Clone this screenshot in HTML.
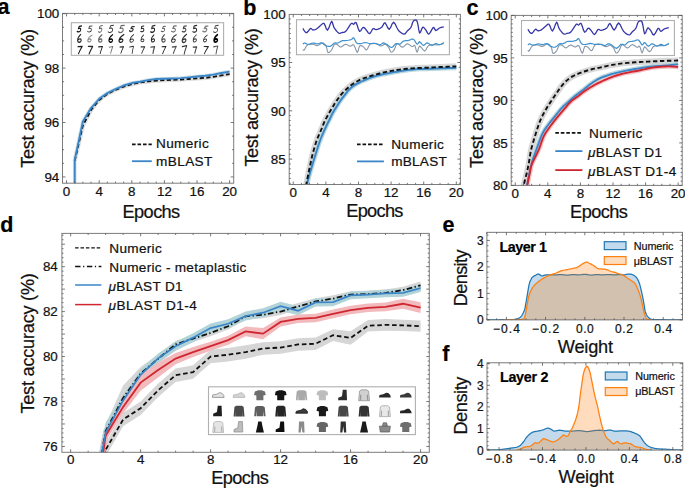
<!DOCTYPE html><html><head><meta charset="utf-8"><style>html,body{margin:0;padding:0;background:#fff;overflow:hidden}svg{display:block}text{font-family:"Liberation Sans",sans-serif}</style></head><body>
<svg width="685" height="488" viewBox="0 0 685 488">
<rect width="685" height="488" fill="#fff"/>
<defs>
<clipPath id="cA"><rect x="62.5" y="13.4" width="171.2" height="169.8"/></clipPath>
<clipPath id="cB"><rect x="289.2" y="14.4" width="171.2" height="170.1"/></clipPath>
<clipPath id="cC"><rect x="511.2" y="15.4" width="171" height="170"/></clipPath>
<clipPath id="cD"><rect x="61.9" y="233.4" width="367.4" height="218.9"/></clipPath>
<clipPath id="cE"><rect x="486.9" y="232.3" width="195.6" height="87.6"/></clipPath>
<clipPath id="cF"><rect x="487" y="362.8" width="195.8" height="87.3"/></clipPath>
</defs>
<text x="-2.4" y="13.6" font-size="21.5" fill="#000" stroke="#000" stroke-width="0.22" font-weight="bold">a</text>
<text x="243.2" y="14.6" font-size="21.5" fill="#000" stroke="#000" stroke-width="0.22" font-weight="bold">b</text>
<text x="466.4" y="14.9" font-size="21.5" fill="#000" stroke="#000" stroke-width="0.22" font-weight="bold">c</text>
<text x="0.2" y="231.6" font-size="21.5" fill="#000" stroke="#000" stroke-width="0.22" font-weight="bold">d</text>
<text x="442.6" y="232" font-size="21.5" fill="#000" stroke="#000" stroke-width="0.22" font-weight="bold">e</text>
<text x="442.2" y="360.8" font-size="21.5" fill="#000" stroke="#000" stroke-width="0.22" font-weight="bold">f</text>
<g clip-path="url(#cA)">
<path d="M74.73 160.89L82.88 125.51L91.03 110L99.19 99.93L107.34 93.95L115.49 89.86L123.64 86.6L131.8 84.15L139.95 82.52L148.1 81.43L156.25 80.61L164.4 80.07L172.56 79.8L180.71 79.52L188.86 78.98L197.01 78.44L205.17 77.89L213.32 76.8L221.47 75.44L229.62 74.08" fill="none" stroke="#dcdcdc" stroke-width="4.2" stroke-linejoin="round"/>
<path d="M74.73 187.83L74.73 160.07L82.88 121.43L91.03 108.1L99.19 98.84L107.34 93.13L115.49 89.05L123.64 85.51L131.8 83.06L139.95 81.7L148.1 80.07L156.25 78.98L164.4 78.71L172.56 78.44L180.71 78.16L188.86 77.35L197.01 76.53L205.17 75.71L213.32 74.63L221.47 72.99L229.62 71.63" fill="none" stroke="#d2e3ea" stroke-width="3.6" stroke-linejoin="round"/>
<path d="M74.73 160.89L82.88 125.51L91.03 110L99.19 99.93L107.34 93.95L115.49 89.86L123.64 86.6L131.8 84.15L139.95 82.52L148.1 81.43L156.25 80.61L164.4 80.07L172.56 79.8L180.71 79.52L188.86 78.98L197.01 78.44L205.17 77.89L213.32 76.8L221.47 75.44L229.62 74.08" fill="none" stroke="#111" stroke-width="1.8" stroke-dasharray="4.2 2.4"/>
<path d="M74.73 187.83L74.73 160.07L82.88 121.43L91.03 108.1L99.19 98.84L107.34 93.13L115.49 89.05L123.64 85.51L131.8 83.06L139.95 81.7L148.1 80.07L156.25 78.98L164.4 78.71L172.56 78.44L180.71 78.16L188.86 77.35L197.01 76.53L205.17 75.71L213.32 74.63L221.47 72.99L229.62 71.63" fill="none" stroke="#3a86c8" stroke-width="1.9" stroke-linejoin="round"/>
</g>
<g clip-path="url(#cB)">
<path d="M305.1 192.9L305.23 191.93L305.41 190.62L305.62 189.05L305.87 187.28L306.16 185.39L306.48 183.44L306.86 181.39L307.27 179.18L307.73 176.85L308.22 174.43L308.73 171.94L309.25 169.43L309.8 166.83L310.38 164.1L310.98 161.31L311.59 158.53L312.22 155.83L312.84 153.3L313.49 150.88L314.16 148.51L314.83 146.22L315.51 144.06L316.15 142.06L316.76 140.26L317.32 138.72L317.85 137.4L318.35 136.25L318.84 135.2L319.31 134.17L319.77 133.11L320.22 132.03L320.65 131L321.07 129.99L321.48 129L321.89 128.02L322.3 127.03L322.69 126.05L323.06 125.11L323.42 124.18L323.81 123.22L324.24 122.22L324.74 121.14L325.34 119.95L326 118.66L326.71 117.33L327.44 116L328.15 114.71L328.82 113.5L329.45 112.39L330.07 111.32L330.68 110.3L331.27 109.31L331.84 108.35L332.41 107.42L332.94 106.53L333.43 105.71L333.91 104.91L334.4 104.11L334.92 103.28L335.51 102.4L336.17 101.42L336.89 100.37L337.65 99.29L338.41 98.23L339.14 97.22L339.83 96.31L340.43 95.53L340.96 94.85L341.47 94.22L341.99 93.61L342.57 92.97L343.25 92.25L344.04 91.45L344.92 90.59L345.85 89.69L346.82 88.8L347.78 87.94L348.71 87.13L349.61 86.39L350.51 85.68L351.4 85L352.3 84.34L353.22 83.7L354.17 83.08L355.16 82.46L356.17 81.87L357.2 81.29L358.24 80.73L359.3 80.2L360.37 79.7L361.46 79.22L362.56 78.78L363.68 78.36L364.8 77.96L365.93 77.57L367.06 77.19L368.18 76.81L369.3 76.44L370.43 76.08L371.56 75.73L372.69 75.39L373.82 75.06L374.98 74.73L376.16 74.4L377.35 74.08L378.51 73.77L379.6 73.48L380.59 73.23L381.34 73.02L381.86 72.87L382.31 72.74L382.87 72.6L383.7 72.41L384.99 72.16L386.8 71.82L389.02 71.39L391.51 70.93L394.15 70.46L396.83 70.02L399.42 69.65L401.96 69.34L404.57 69.06L407.21 68.81L409.84 68.58L412.45 68.38L414.99 68.2L417.48 68.06L419.93 67.95L422.35 67.86L424.74 67.79L427.1 67.71L429.42 67.62L431.7 67.51L433.92 67.4L436.12 67.28L438.3 67.17L440.49 67.05L442.71 66.95L445.12 66.84L447.73 66.72L450.35 66.61L452.78 66.51L454.84 66.43L456.32 66.37" fill="none" stroke="#d8d8d8" stroke-width="6" stroke-linejoin="round"/>
<path d="M305.91 192.9L306.02 191.94L306.14 190.67L306.3 189.14L306.52 187.39L306.81 185.48L307.22 183.44L307.74 181.22L308.37 178.79L309.08 176.19L309.84 173.47L310.64 170.68L311.46 167.89L312.32 164.95L313.27 161.8L314.25 158.59L315.22 155.46L316.12 152.55L316.92 150.02L317.59 147.9L318.17 146.1L318.69 144.52L319.17 143.08L319.66 141.69L320.18 140.26L320.72 138.84L321.25 137.5L321.78 136.2L322.32 134.93L322.87 133.66L323.44 132.34L324.06 130.94L324.71 129.47L325.39 128L326.04 126.58L326.65 125.27L327.19 124.13L327.63 123.23L327.98 122.53L328.29 121.94L328.59 121.38L328.92 120.76L329.31 119.98L329.76 119.03L330.25 117.98L330.76 116.86L331.3 115.72L331.85 114.59L332.41 113.5L332.98 112.48L333.56 111.47L334.17 110.48L334.78 109.48L335.42 108.47L336.08 107.42L336.77 106.31L337.49 105.15L338.23 103.97L338.97 102.8L339.7 101.69L340.4 100.66L341.05 99.74L341.66 98.91L342.26 98.13L342.86 97.36L343.48 96.58L344.15 95.73L344.85 94.81L345.58 93.85L346.32 92.86L347.09 91.88L347.89 90.93L348.71 90.03L349.56 89.18L350.44 88.36L351.34 87.57L352.27 86.81L353.21 86.08L354.17 85.4L355.16 84.75L356.17 84.16L357.2 83.6L358.24 83.06L359.3 82.54L360.37 82.01L361.46 81.5L362.56 81L363.68 80.51L364.8 80.04L365.93 79.57L367.06 79.12L368.18 78.67L369.3 78.23L370.43 77.8L371.56 77.38L372.69 76.98L373.82 76.61L374.98 76.25L376.16 75.91L377.35 75.59L378.51 75.29L379.6 75.01L380.59 74.77L381.34 74.59L381.86 74.47L382.31 74.38L382.87 74.28L383.7 74.14L384.99 73.9L386.8 73.56L389.02 73.14L391.51 72.67L394.15 72.18L396.83 71.71L399.42 71.29L401.96 70.9L404.57 70.52L407.21 70.15L409.84 69.8L412.45 69.51L414.99 69.26L417.48 69.09L419.93 68.99L422.35 68.93L424.74 68.89L427.1 68.84L429.42 68.78L431.7 68.7L433.92 68.62L436.12 68.54L438.3 68.46L440.49 68.38L442.71 68.3L445.12 68.21L447.73 68.12L450.35 68.03L452.78 67.94L454.84 67.87L456.32 67.82" fill="none" stroke="#b9d8de" stroke-width="4.6" stroke-linejoin="round"/>
<path d="M305.91 192.9L306.02 191.94L306.14 190.67L306.3 189.14L306.52 187.39L306.81 185.48L307.22 183.44L307.74 181.22L308.37 178.79L309.08 176.19L309.84 173.47L310.64 170.68L311.46 167.89L312.32 164.95L313.27 161.8L314.25 158.59L315.22 155.46L316.12 152.55L316.92 150.02L317.59 147.9L318.17 146.1L318.69 144.52L319.17 143.08L319.66 141.69L320.18 140.26L320.72 138.84L321.25 137.5L321.78 136.2L322.32 134.93L322.87 133.66L323.44 132.34L324.06 130.94L324.71 129.47L325.39 128L326.04 126.58L326.65 125.27L327.19 124.13L327.63 123.23L327.98 122.53L328.29 121.94L328.59 121.38L328.92 120.76L329.31 119.98L329.76 119.03L330.25 117.98L330.76 116.86L331.3 115.72L331.85 114.59L332.41 113.5L332.98 112.48L333.56 111.47L334.17 110.48L334.78 109.48L335.42 108.47L336.08 107.42L336.77 106.31L337.49 105.15L338.23 103.97L338.97 102.8L339.7 101.69L340.4 100.66L341.05 99.74L341.66 98.91L342.26 98.13L342.86 97.36L343.48 96.58L344.15 95.73L344.85 94.81L345.58 93.85L346.32 92.86L347.09 91.88L347.89 90.93L348.71 90.03L349.56 89.18L350.44 88.36L351.34 87.57L352.27 86.81L353.21 86.08L354.17 85.4L355.16 84.75L356.17 84.16L357.2 83.6L358.24 83.06L359.3 82.54L360.37 82.01L361.46 81.5L362.56 81L363.68 80.51L364.8 80.04L365.93 79.57L367.06 79.12L368.18 78.67L369.3 78.23L370.43 77.8L371.56 77.38L372.69 76.98L373.82 76.61L374.98 76.25L376.16 75.91L377.35 75.59L378.51 75.29L379.6 75.01L380.59 74.77L381.34 74.59L381.86 74.47L382.31 74.38L382.87 74.28L383.7 74.14L384.99 73.9L386.8 73.56L389.02 73.14L391.51 72.67L394.15 72.18L396.83 71.71L399.42 71.29L401.96 70.9L404.57 70.52L407.21 70.15L409.84 69.8L412.45 69.51L414.99 69.26L417.48 69.09L419.93 68.99L422.35 68.93L424.74 68.89L427.1 68.84L429.42 68.78L431.7 68.7L433.92 68.62L436.12 68.54L438.3 68.46L440.49 68.38L442.71 68.3L445.12 68.21L447.73 68.12L450.35 68.03L452.78 67.94L454.84 67.87L456.32 67.82" fill="none" stroke="#3a86c8" stroke-width="1.9"/>
<path d="M305.1 192.9L305.23 191.93L305.41 190.62L305.62 189.05L305.87 187.28L306.16 185.39L306.48 183.44L306.86 181.39L307.27 179.18L307.73 176.85L308.22 174.43L308.73 171.94L309.25 169.43L309.8 166.83L310.38 164.1L310.98 161.31L311.59 158.53L312.22 155.83L312.84 153.3L313.49 150.88L314.16 148.51L314.83 146.22L315.51 144.06L316.15 142.06L316.76 140.26L317.32 138.72L317.85 137.4L318.35 136.25L318.84 135.2L319.31 134.17L319.77 133.11L320.22 132.03L320.65 131L321.07 129.99L321.48 129L321.89 128.02L322.3 127.03L322.69 126.05L323.06 125.11L323.42 124.18L323.81 123.22L324.24 122.22L324.74 121.14L325.34 119.95L326 118.66L326.71 117.33L327.44 116L328.15 114.71L328.82 113.5L329.45 112.39L330.07 111.32L330.68 110.3L331.27 109.31L331.84 108.35L332.41 107.42L332.94 106.53L333.43 105.71L333.91 104.91L334.4 104.11L334.92 103.28L335.51 102.4L336.17 101.42L336.89 100.37L337.65 99.29L338.41 98.23L339.14 97.22L339.83 96.31L340.43 95.53L340.96 94.85L341.47 94.22L341.99 93.61L342.57 92.97L343.25 92.25L344.04 91.45L344.92 90.59L345.85 89.69L346.82 88.8L347.78 87.94L348.71 87.13L349.61 86.39L350.51 85.68L351.4 85L352.3 84.34L353.22 83.7L354.17 83.08L355.16 82.46L356.17 81.87L357.2 81.29L358.24 80.73L359.3 80.2L360.37 79.7L361.46 79.22L362.56 78.78L363.68 78.36L364.8 77.96L365.93 77.57L367.06 77.19L368.18 76.81L369.3 76.44L370.43 76.08L371.56 75.73L372.69 75.39L373.82 75.06L374.98 74.73L376.16 74.4L377.35 74.08L378.51 73.77L379.6 73.48L380.59 73.23L381.34 73.02L381.86 72.87L382.31 72.74L382.87 72.6L383.7 72.41L384.99 72.16L386.8 71.82L389.02 71.39L391.51 70.93L394.15 70.46L396.83 70.02L399.42 69.65L401.96 69.34L404.57 69.06L407.21 68.81L409.84 68.58L412.45 68.38L414.99 68.2L417.48 68.06L419.93 67.95L422.35 67.86L424.74 67.79L427.1 67.71L429.42 67.62L431.7 67.51L433.92 67.4L436.12 67.28L438.3 67.17L440.49 67.05L442.71 66.95L445.12 66.84L447.73 66.72L450.35 66.61L452.78 66.51L454.84 66.43L456.32 66.37" fill="none" stroke="#111" stroke-width="1.9" stroke-dasharray="4.4 2.6"/>
</g>
<g clip-path="url(#cC)">
<path d="M522.6 190.5L522.71 189.92L522.86 189.17L523.04 188.25L523.25 187.18L523.51 185.98L523.82 184.63L524.2 183.1L524.65 181.35L525.14 179.47L525.65 177.51L526.14 175.55L526.59 173.67L527 171.88L527.39 170.13L527.76 168.37L528.13 166.59L528.5 164.74L528.87 162.79L529.22 160.75L529.55 158.64L529.87 156.46L530.22 154.22L530.64 151.91L531.15 149.53L531.78 147.02L532.5 144.38L533.29 141.67L534.11 138.96L534.92 136.32L535.71 133.81L536.46 131.41L537.21 129.06L537.95 126.79L538.71 124.59L539.48 122.47L540.27 120.46L541.09 118.56L541.92 116.78L542.76 115.09L543.63 113.46L544.51 111.85L545.4 110.26L546.33 108.67L547.29 107.1L548.27 105.57L549.24 104.08L550.19 102.63L551.1 101.25L551.94 99.96L552.73 98.77L553.5 97.63L554.28 96.49L555.1 95.31L555.99 94.03L556.96 92.61L557.99 91.08L559.05 89.51L560.15 87.95L561.25 86.46L562.34 85.1L563.41 83.87L564.48 82.71L565.56 81.62L566.66 80.6L567.78 79.64L568.93 78.73L570.11 77.88L571.29 77.12L572.51 76.42L573.76 75.76L575.06 75.11L576.42 74.48L577.89 73.84L579.44 73.22L581.04 72.62L582.66 72.04L584.25 71.5L585.79 70.99L587.29 70.51L588.81 70.06L590.3 69.65L591.74 69.26L593.09 68.92L594.34 68.61L595.39 68.38L596.25 68.22L597.03 68.09L597.84 67.97L598.78 67.82L599.96 67.59L601.39 67.28L603 66.91L604.74 66.5L606.58 66.08L608.47 65.67L610.38 65.3L612.31 64.94L614.29 64.59L616.33 64.25L618.43 63.92L620.6 63.62L622.84 63.34L625.18 63.09L627.62 62.87L630.14 62.67L632.68 62.49L635.23 62.31L637.74 62.15L640.22 62L642.71 61.86L645.19 61.73L647.67 61.61L650.16 61.5L652.64 61.38L655.17 61.27L657.77 61.16L660.36 61.06L662.9 60.96L665.31 60.87L667.54 60.79L669.68 60.72L671.78 60.67L673.77 60.63L675.54 60.59L677.03 60.56L678.13 60.54" fill="none" stroke="#d8d8d8" stroke-width="6" stroke-linejoin="round"/>
<path d="M525.86 190.5L525.95 190.04L526.05 189.54L526.19 188.88L526.38 187.93L526.67 186.56L527.08 184.63L527.63 181.94L528.3 178.54L529.06 174.72L529.88 170.77L530.73 166.98L531.56 163.64L532.39 160.76L533.25 158.12L534.14 155.63L535.04 153.24L535.94 150.86L536.85 148.43L537.75 145.89L538.66 143.31L539.57 140.74L540.49 138.26L541.43 135.92L542.39 133.81L543.36 131.95L544.34 130.32L545.33 128.83L546.35 127.42L547.4 126.02L548.49 124.54L549.64 122.99L550.84 121.43L552.08 119.88L553.32 118.34L554.55 116.83L555.74 115.36L556.91 113.92L558.07 112.48L559.22 111.07L560.34 109.72L561.44 108.45L562.5 107.29L563.48 106.28L564.38 105.42L565.26 104.63L566.15 103.87L567.12 103.04L568.2 102.1L569.43 101.01L570.78 99.81L572.2 98.56L573.64 97.3L575.06 96.08L576.42 94.96L577.73 93.94L579 92.99L580.26 92.08L581.5 91.19L582.75 90.29L584 89.35L585.25 88.36L586.49 87.34L587.74 86.32L588.98 85.3L590.23 84.32L591.49 83.4L592.71 82.54L593.9 81.73L595.08 80.96L596.32 80.2L597.66 79.46L599.14 78.73L600.79 77.98L602.58 77.23L604.46 76.5L606.41 75.79L608.39 75.11L610.38 74.48L612.36 73.89L614.35 73.36L616.38 72.85L618.46 72.37L620.61 71.9L622.84 71.42L625.18 70.93L627.62 70.44L630.14 69.96L632.68 69.49L635.23 69.04L637.74 68.61L640.22 68.19L642.71 67.79L645.19 67.39L647.67 67.03L650.16 66.69L652.64 66.4L655.17 66.16L657.77 65.98L660.36 65.83L662.9 65.69L665.31 65.55L667.54 65.38L669.68 65.18L671.78 64.95L673.77 64.72L675.54 64.5L677.03 64.32L678.13 64.19" fill="none" stroke="#b9d8de" stroke-width="4.6" stroke-linejoin="round"/>
<path d="M526.26 190.5L526.38 189.92L526.52 189.17L526.69 188.25L526.9 187.18L527.14 185.98L527.4 184.63L527.72 183.08L528.09 181.27L528.5 179.32L528.91 177.34L529.31 175.42L529.68 173.67L529.99 172.11L530.25 170.66L530.49 169.27L530.77 167.91L531.11 166.53L531.56 165.09L532.15 163.56L532.85 161.98L533.62 160.38L534.41 158.79L535.18 157.26L535.87 155.82L536.49 154.53L537.05 153.37L537.59 152.27L538.13 151.13L538.69 149.88L539.29 148.43L539.93 146.7L540.59 144.75L541.27 142.69L541.97 140.62L542.69 138.64L543.45 136.87L544.2 135.34L544.94 133.99L545.72 132.74L546.54 131.49L547.46 130.18L548.49 128.7L549.69 127.03L551.03 125.22L552.46 123.34L553.92 121.45L555.36 119.62L556.72 117.91L558.01 116.33L559.27 114.82L560.52 113.38L561.74 111.98L562.94 110.6L564.13 109.24L565.28 107.88L566.4 106.54L567.5 105.22L568.6 103.95L569.73 102.74L570.89 101.59L572.09 100.54L573.33 99.57L574.59 98.66L575.86 97.78L577.13 96.9L578.38 95.98L579.62 95.02L580.85 94.05L582.07 93.07L583.3 92.11L584.54 91.18L585.79 90.29L587.07 89.43L588.39 88.59L589.72 87.78L591.03 87.01L592.28 86.28L593.44 85.61L594.44 85.03L595.28 84.54L596.07 84.1L596.91 83.65L597.9 83.15L599.14 82.55L600.68 81.83L602.43 81.01L604.34 80.14L606.34 79.26L608.37 78.41L610.38 77.62L612.36 76.89L614.35 76.18L616.38 75.49L618.46 74.84L620.61 74.22L622.84 73.62L625.18 73.08L627.62 72.59L630.14 72.13L632.68 71.68L635.23 71.22L637.74 70.74L640.22 70.2L642.71 69.63L645.19 69.06L647.67 68.5L650.16 68L652.64 67.59L655.17 67.26L657.77 66.98L660.36 66.76L662.9 66.59L665.31 66.47L667.54 66.4L669.68 66.4L671.78 66.49L673.77 66.62L675.54 66.77L677.03 66.91L678.13 66.99" fill="none" stroke="#f3c3c5" stroke-width="4.6" stroke-linejoin="round"/>
<path d="M525.86 190.5L525.95 190.04L526.05 189.54L526.19 188.88L526.38 187.93L526.67 186.56L527.08 184.63L527.63 181.94L528.3 178.54L529.06 174.72L529.88 170.77L530.73 166.98L531.56 163.64L532.39 160.76L533.25 158.12L534.14 155.63L535.04 153.24L535.94 150.86L536.85 148.43L537.75 145.89L538.66 143.31L539.57 140.74L540.49 138.26L541.43 135.92L542.39 133.81L543.36 131.95L544.34 130.32L545.33 128.83L546.35 127.42L547.4 126.02L548.49 124.54L549.64 122.99L550.84 121.43L552.08 119.88L553.32 118.34L554.55 116.83L555.74 115.36L556.91 113.92L558.07 112.48L559.22 111.07L560.34 109.72L561.44 108.45L562.5 107.29L563.48 106.28L564.38 105.42L565.26 104.63L566.15 103.87L567.12 103.04L568.2 102.1L569.43 101.01L570.78 99.81L572.2 98.56L573.64 97.3L575.06 96.08L576.42 94.96L577.73 93.94L579 92.99L580.26 92.08L581.5 91.19L582.75 90.29L584 89.35L585.25 88.36L586.49 87.34L587.74 86.32L588.98 85.3L590.23 84.32L591.49 83.4L592.71 82.54L593.9 81.73L595.08 80.96L596.32 80.2L597.66 79.46L599.14 78.73L600.79 77.98L602.58 77.23L604.46 76.5L606.41 75.79L608.39 75.11L610.38 74.48L612.36 73.89L614.35 73.36L616.38 72.85L618.46 72.37L620.61 71.9L622.84 71.42L625.18 70.93L627.62 70.44L630.14 69.96L632.68 69.49L635.23 69.04L637.74 68.61L640.22 68.19L642.71 67.79L645.19 67.39L647.67 67.03L650.16 66.69L652.64 66.4L655.17 66.16L657.77 65.98L660.36 65.83L662.9 65.69L665.31 65.55L667.54 65.38L669.68 65.18L671.78 64.95L673.77 64.72L675.54 64.5L677.03 64.32L678.13 64.19" fill="none" stroke="#3a86c8" stroke-width="1.9"/>
<path d="M526.26 190.5L526.38 189.92L526.52 189.17L526.69 188.25L526.9 187.18L527.14 185.98L527.4 184.63L527.72 183.08L528.09 181.27L528.5 179.32L528.91 177.34L529.31 175.42L529.68 173.67L529.99 172.11L530.25 170.66L530.49 169.27L530.77 167.91L531.11 166.53L531.56 165.09L532.15 163.56L532.85 161.98L533.62 160.38L534.41 158.79L535.18 157.26L535.87 155.82L536.49 154.53L537.05 153.37L537.59 152.27L538.13 151.13L538.69 149.88L539.29 148.43L539.93 146.7L540.59 144.75L541.27 142.69L541.97 140.62L542.69 138.64L543.45 136.87L544.2 135.34L544.94 133.99L545.72 132.74L546.54 131.49L547.46 130.18L548.49 128.7L549.69 127.03L551.03 125.22L552.46 123.34L553.92 121.45L555.36 119.62L556.72 117.91L558.01 116.33L559.27 114.82L560.52 113.38L561.74 111.98L562.94 110.6L564.13 109.24L565.28 107.88L566.4 106.54L567.5 105.22L568.6 103.95L569.73 102.74L570.89 101.59L572.09 100.54L573.33 99.57L574.59 98.66L575.86 97.78L577.13 96.9L578.38 95.98L579.62 95.02L580.85 94.05L582.07 93.07L583.3 92.11L584.54 91.18L585.79 90.29L587.07 89.43L588.39 88.59L589.72 87.78L591.03 87.01L592.28 86.28L593.44 85.61L594.44 85.03L595.28 84.54L596.07 84.1L596.91 83.65L597.9 83.15L599.14 82.55L600.68 81.83L602.43 81.01L604.34 80.14L606.34 79.26L608.37 78.41L610.38 77.62L612.36 76.89L614.35 76.18L616.38 75.49L618.46 74.84L620.61 74.22L622.84 73.62L625.18 73.08L627.62 72.59L630.14 72.13L632.68 71.68L635.23 71.22L637.74 70.74L640.22 70.2L642.71 69.63L645.19 69.06L647.67 68.5L650.16 68L652.64 67.59L655.17 67.26L657.77 66.98L660.36 66.76L662.9 66.59L665.31 66.47L667.54 66.4L669.68 66.4L671.78 66.49L673.77 66.62L675.54 66.77L677.03 66.91L678.13 66.99" fill="none" stroke="#d02630" stroke-width="1.9"/>
<path d="M522.6 190.5L522.71 189.92L522.86 189.17L523.04 188.25L523.25 187.18L523.51 185.98L523.82 184.63L524.2 183.1L524.65 181.35L525.14 179.47L525.65 177.51L526.14 175.55L526.59 173.67L527 171.88L527.39 170.13L527.76 168.37L528.13 166.59L528.5 164.74L528.87 162.79L529.22 160.75L529.55 158.64L529.87 156.46L530.22 154.22L530.64 151.91L531.15 149.53L531.78 147.02L532.5 144.38L533.29 141.67L534.11 138.96L534.92 136.32L535.71 133.81L536.46 131.41L537.21 129.06L537.95 126.79L538.71 124.59L539.48 122.47L540.27 120.46L541.09 118.56L541.92 116.78L542.76 115.09L543.63 113.46L544.51 111.85L545.4 110.26L546.33 108.67L547.29 107.1L548.27 105.57L549.24 104.08L550.19 102.63L551.1 101.25L551.94 99.96L552.73 98.77L553.5 97.63L554.28 96.49L555.1 95.31L555.99 94.03L556.96 92.61L557.99 91.08L559.05 89.51L560.15 87.95L561.25 86.46L562.34 85.1L563.41 83.87L564.48 82.71L565.56 81.62L566.66 80.6L567.78 79.64L568.93 78.73L570.11 77.88L571.29 77.12L572.51 76.42L573.76 75.76L575.06 75.11L576.42 74.48L577.89 73.84L579.44 73.22L581.04 72.62L582.66 72.04L584.25 71.5L585.79 70.99L587.29 70.51L588.81 70.06L590.3 69.65L591.74 69.26L593.09 68.92L594.34 68.61L595.39 68.38L596.25 68.22L597.03 68.09L597.84 67.97L598.78 67.82L599.96 67.59L601.39 67.28L603 66.91L604.74 66.5L606.58 66.08L608.47 65.67L610.38 65.3L612.31 64.94L614.29 64.59L616.33 64.25L618.43 63.92L620.6 63.62L622.84 63.34L625.18 63.09L627.62 62.87L630.14 62.67L632.68 62.49L635.23 62.31L637.74 62.15L640.22 62L642.71 61.86L645.19 61.73L647.67 61.61L650.16 61.5L652.64 61.38L655.17 61.27L657.77 61.16L660.36 61.06L662.9 60.96L665.31 60.87L667.54 60.79L669.68 60.72L671.78 60.67L673.77 60.63L675.54 60.59L677.03 60.56L678.13 60.54" fill="none" stroke="#111" stroke-width="1.9" stroke-dasharray="4.4 2.6"/>
</g>
<g clip-path="url(#cD)">
<path d="M88.14 570.07L105.64 443.09L123.13 412.75L140.63 401.51L158.12 383.53L175.62 368.47L193.11 365.32L210.61 349.82L228.1 348.02L245.6 345.32L263.1 342.18L280.59 341.28L298.09 338.13L315.58 337.46L333.08 329.37L350.57 331.16L368.07 319.93L385.56 319.03L403.06 319.7L420.55 320.6L420.55 331.84L403.06 330.94L385.56 330.71L368.07 331.61L350.57 344.65L333.08 341.05L315.58 350.04L298.09 350.72L280.59 353.86L263.1 354.76L245.6 358.81L228.1 361.5L210.61 363.3L193.11 378.81L175.62 381.96L158.12 397.01L140.63 414.99L123.13 426.23L105.64 456.57L88.14 592.54Z" fill="#d6d6d6"/>
<path d="M88.14 581.3L105.64 449.83L123.13 419.49L140.63 408.25L158.12 390.27L175.62 375.21L193.11 372.07L210.61 356.56L228.1 354.76L245.6 352.06L263.1 348.47L280.59 347.57L298.09 344.42L315.58 343.75L333.08 335.21L350.57 337.91L368.07 325.77L385.56 324.87L403.06 325.32L420.55 326.22" fill="none" stroke="#d6d6d6" stroke-width="5" stroke-linejoin="round"/>
<path d="M88.14 513.88L105.64 424.43L123.13 385.55L140.63 366.9L158.12 354.31L175.62 340.83L193.11 335.21L210.61 329.59L228.1 322.85L245.6 312.96L263.1 311.39L280.59 308.24L298.09 303.07L315.58 298.13L333.08 295.2L350.57 291.16L368.07 290.71L385.56 289.59L403.06 286.66L420.55 281.5L420.55 289.14L403.06 293.41L385.56 296.33L368.07 297.45L350.57 297.9L333.08 301.95L315.58 304.87L298.09 309.81L280.59 314.98L263.1 318.13L245.6 319.7L228.1 329.59L210.61 336.33L193.11 341.95L175.62 348.02L158.12 363.3L140.63 380.38L123.13 410.27L105.64 437.92L88.14 536.35Z" fill="#d6d6d6"/>
<path d="M88.14 525.12L105.64 431.17L123.13 397.91L140.63 373.64L158.12 358.81L175.62 344.42L193.11 338.58L210.61 332.96L228.1 326.22L245.6 316.33L263.1 314.76L280.59 311.61L298.09 306.44L315.58 301.5L333.08 298.58L350.57 294.53L368.07 294.08L385.56 292.96L403.06 290.04L420.55 285.32" fill="none" stroke="#d6d6d6" stroke-width="5" stroke-linejoin="round"/>
<path d="M88.14 513.88L105.64 422.41L123.13 394.99L140.63 369.82L158.12 353.41L175.62 341.73L193.11 333.19L210.61 323.52L228.1 319.25L245.6 311.61L263.1 308.24L280.59 301.72L298.09 306.22L315.58 298.35L333.08 298.13L350.57 291.61L368.07 290.71L385.56 289.59L403.06 289.14L420.55 284.42L420.55 292.06L403.06 296.78L385.56 297.23L368.07 298.35L350.57 299.25L333.08 306.22L315.58 306.44L298.09 315.21L280.59 310.71L263.1 317.23L245.6 320.6L228.1 328.24L210.61 332.51L193.11 342.18L175.62 350.72L158.12 363.3L140.63 379.71L123.13 405.78L105.64 442.64L88.14 536.35Z" fill="#b2d3d7"/>
<path d="M88.14 525.12L105.64 432.52L123.13 400.38L140.63 374.76L158.12 358.36L175.62 346.22L193.11 337.68L210.61 328.02L228.1 323.75L245.6 316.11L263.1 312.73L280.59 306.22L298.09 310.71L315.58 302.4L333.08 302.17L350.57 295.43L368.07 294.53L385.56 293.41L403.06 292.96L420.55 288.24" fill="none" stroke="#b2d3d7" stroke-width="5" stroke-linejoin="round"/>
<path d="M88.14 547.59L105.64 430.05L123.13 400.61L140.63 374.54L158.12 362.63L175.62 352.96L193.11 347.12L210.61 341.73L228.1 335.66L245.6 326.44L263.1 328.02L280.59 317.45L298.09 314.53L315.58 313.63L333.08 309.59L350.57 305.77L368.07 303.52L385.56 302.62L403.06 298.8L420.55 302.17L420.55 312.96L403.06 308.69L385.56 311.16L368.07 312.06L350.57 314.31L333.08 318.13L315.58 322.17L298.09 323.07L280.59 326.44L263.1 339.25L245.6 336.33L228.1 344.65L210.61 350.72L193.11 357.01L175.62 364.2L158.12 377.46L140.63 390.72L123.13 413.19L105.64 441.29L88.14 570.07Z" fill="#f2babc"/>
<path d="M88.14 558.83L105.64 435.67L123.13 406.9L140.63 382.63L158.12 370.04L175.62 358.58L193.11 352.06L210.61 346.22L228.1 340.15L245.6 331.39L263.1 333.64L280.59 321.95L298.09 318.8L315.58 317.9L333.08 313.86L350.57 310.04L368.07 307.79L385.56 306.89L403.06 303.74L420.55 307.57" fill="none" stroke="#f2babc" stroke-width="5" stroke-linejoin="round"/>
<path d="M88.14 581.3L105.64 449.83L123.13 419.49L140.63 408.25L158.12 390.27L175.62 375.21L193.11 372.07L210.61 356.56L228.1 354.76L245.6 352.06L263.1 348.47L280.59 347.57L298.09 344.42L315.58 343.75L333.08 335.21L350.57 337.91L368.07 325.77L385.56 324.87L403.06 325.32L420.55 326.22" fill="none" stroke="#111" stroke-width="1.8" stroke-dasharray="4.6 2.8"/>
<path d="M88.14 525.12L105.64 431.17L123.13 397.91L140.63 373.64L158.12 358.81L175.62 344.42L193.11 338.58L210.61 332.96L228.1 326.22L245.6 316.33L263.1 314.76L280.59 311.61L298.09 306.44L315.58 301.5L333.08 298.58L350.57 294.53L368.07 294.08L385.56 292.96L403.06 290.04L420.55 285.32" fill="none" stroke="#111" stroke-width="1.8" stroke-dasharray="5.6 2.4 1.4 2.4"/>
<path d="M88.14 558.83L105.64 435.67L123.13 406.9L140.63 382.63L158.12 370.04L175.62 358.58L193.11 352.06L210.61 346.22L228.1 340.15L245.6 331.39L263.1 333.64L280.59 321.95L298.09 318.8L315.58 317.9L333.08 313.86L350.57 310.04L368.07 307.79L385.56 306.89L403.06 303.74L420.55 307.57" fill="none" stroke="#d02630" stroke-width="1.8"/>
<path d="M88.14 525.12L105.64 432.52L123.13 400.38L140.63 374.76L158.12 358.36L175.62 346.22L193.11 337.68L210.61 328.02L228.1 323.75L245.6 316.11L263.1 312.73L280.59 306.22L298.09 310.71L315.58 302.4L333.08 302.17L350.57 295.43L368.07 294.53L385.56 293.41L403.06 292.96L420.55 288.24" fill="none" stroke="#3a86c8" stroke-width="1.8"/>
</g>
<rect x="62.5" y="13.4" width="171.2" height="169.8" fill="none" stroke="#7c7c7c" stroke-width="1.0"/>
<path d="M66.58 183.2v-3M66.58 13.4v3M74.73 183.2v-1.6M74.73 13.4v1.6M82.88 183.2v-1.6M82.88 13.4v1.6M91.03 183.2v-1.6M91.03 13.4v1.6M99.19 183.2v-3M99.19 13.4v3M107.34 183.2v-1.6M107.34 13.4v1.6M115.49 183.2v-1.6M115.49 13.4v1.6M123.64 183.2v-1.6M123.64 13.4v1.6M131.8 183.2v-3M131.8 13.4v3M139.95 183.2v-1.6M139.95 13.4v1.6M148.1 183.2v-1.6M148.1 13.4v1.6M156.25 183.2v-1.6M156.25 13.4v1.6M164.4 183.2v-3M164.4 13.4v3M172.56 183.2v-1.6M172.56 13.4v1.6M180.71 183.2v-1.6M180.71 13.4v1.6M188.86 183.2v-1.6M188.86 13.4v1.6M197.01 183.2v-3M197.01 13.4v3M205.17 183.2v-1.6M205.17 13.4v1.6M213.32 183.2v-1.6M213.32 13.4v1.6M221.47 183.2v-1.6M221.47 13.4v1.6M229.62 183.2v-3M229.62 13.4v3M62.5 176.94h3M233.7 176.94h-3M62.5 163.34h1.6M233.7 163.34h-1.6M62.5 149.73h1.6M233.7 149.73h-1.6M62.5 136.12h1.6M233.7 136.12h-1.6M62.5 122.52h3M233.7 122.52h-3M62.5 108.91h1.6M233.7 108.91h-1.6M62.5 95.31h1.6M233.7 95.31h-1.6M62.5 81.7h1.6M233.7 81.7h-1.6M62.5 68.1h3M233.7 68.1h-3M62.5 54.49h1.6M233.7 54.49h-1.6M62.5 40.88h1.6M233.7 40.88h-1.6M62.5 27.28h1.6M233.7 27.28h-1.6M62.5 13.67h3M233.7 13.67h-3" stroke="#555" stroke-width="0.8" fill="none"/>
<rect x="289.2" y="14.4" width="171.2" height="170.1" fill="none" stroke="#7c7c7c" stroke-width="1.0"/>
<path d="M293.28 184.5v-3M293.28 14.4v3M301.43 184.5v-1.6M301.43 14.4v1.6M309.58 184.5v-1.6M309.58 14.4v1.6M317.73 184.5v-1.6M317.73 14.4v1.6M325.89 184.5v-3M325.89 14.4v3M334.04 184.5v-1.6M334.04 14.4v1.6M342.19 184.5v-1.6M342.19 14.4v1.6M350.34 184.5v-1.6M350.34 14.4v1.6M358.5 184.5v-3M358.5 14.4v3M366.65 184.5v-1.6M366.65 14.4v1.6M374.8 184.5v-1.6M374.8 14.4v1.6M382.95 184.5v-1.6M382.95 14.4v1.6M391.1 184.5v-3M391.1 14.4v3M399.26 184.5v-1.6M399.26 14.4v1.6M407.41 184.5v-1.6M407.41 14.4v1.6M415.56 184.5v-1.6M415.56 14.4v1.6M423.71 184.5v-3M423.71 14.4v3M431.87 184.5v-1.6M431.87 14.4v1.6M440.02 184.5v-1.6M440.02 14.4v1.6M448.17 184.5v-1.6M448.17 14.4v1.6M456.32 184.5v-3M456.32 14.4v3M289.2 183.24h1.6M460.4 183.24h-1.6M289.2 178.41h1.6M460.4 178.41h-1.6M289.2 173.59h1.6M460.4 173.59h-1.6M289.2 168.76h1.6M460.4 168.76h-1.6M289.2 163.93h1.6M460.4 163.93h-1.6M289.2 159.1h3M460.4 159.1h-3M289.2 154.27h1.6M460.4 154.27h-1.6M289.2 149.44h1.6M460.4 149.44h-1.6M289.2 144.61h1.6M460.4 144.61h-1.6M289.2 139.78h1.6M460.4 139.78h-1.6M289.2 134.95h1.6M460.4 134.95h-1.6M289.2 130.12h1.6M460.4 130.12h-1.6M289.2 125.29h1.6M460.4 125.29h-1.6M289.2 120.46h1.6M460.4 120.46h-1.6M289.2 115.63h1.6M460.4 115.63h-1.6M289.2 110.8h3M460.4 110.8h-3M289.2 105.97h1.6M460.4 105.97h-1.6M289.2 101.14h1.6M460.4 101.14h-1.6M289.2 96.31h1.6M460.4 96.31h-1.6M289.2 91.48h1.6M460.4 91.48h-1.6M289.2 86.65h1.6M460.4 86.65h-1.6M289.2 81.82h1.6M460.4 81.82h-1.6M289.2 76.99h1.6M460.4 76.99h-1.6M289.2 72.16h1.6M460.4 72.16h-1.6M289.2 67.33h1.6M460.4 67.33h-1.6M289.2 62.5h3M460.4 62.5h-3M289.2 57.67h1.6M460.4 57.67h-1.6M289.2 52.84h1.6M460.4 52.84h-1.6M289.2 48.01h1.6M460.4 48.01h-1.6M289.2 43.18h1.6M460.4 43.18h-1.6M289.2 38.36h1.6M460.4 38.36h-1.6M289.2 33.53h1.6M460.4 33.53h-1.6M289.2 28.7h1.6M460.4 28.7h-1.6M289.2 23.87h1.6M460.4 23.87h-1.6M289.2 19.04h1.6M460.4 19.04h-1.6" stroke="#555" stroke-width="0.8" fill="none"/>
<rect x="511.2" y="15.4" width="171" height="170" fill="none" stroke="#7c7c7c" stroke-width="1.0"/>
<path d="M515.27 185.4v-3M515.27 15.4v3M523.41 185.4v-1.6M523.41 15.4v1.6M531.56 185.4v-1.6M531.56 15.4v1.6M539.7 185.4v-1.6M539.7 15.4v1.6M547.84 185.4v-3M547.84 15.4v3M555.99 185.4v-1.6M555.99 15.4v1.6M564.13 185.4v-1.6M564.13 15.4v1.6M572.27 185.4v-1.6M572.27 15.4v1.6M580.41 185.4v-3M580.41 15.4v3M588.56 185.4v-1.6M588.56 15.4v1.6M596.7 185.4v-1.6M596.7 15.4v1.6M604.84 185.4v-1.6M604.84 15.4v1.6M612.99 185.4v-3M612.99 15.4v3M621.13 185.4v-1.6M621.13 15.4v1.6M629.27 185.4v-1.6M629.27 15.4v1.6M637.41 185.4v-1.6M637.41 15.4v1.6M645.56 185.4v-3M645.56 15.4v3M653.7 185.4v-1.6M653.7 15.4v1.6M661.84 185.4v-1.6M661.84 15.4v1.6M669.99 185.4v-1.6M669.99 15.4v1.6M678.13 185.4v-3M678.13 15.4v3M511.2 185.4h3M682.2 185.4h-3M511.2 181.15h1.6M682.2 181.15h-1.6M511.2 176.9h1.6M682.2 176.9h-1.6M511.2 172.65h1.6M682.2 172.65h-1.6M511.2 168.4h1.6M682.2 168.4h-1.6M511.2 164.15h1.6M682.2 164.15h-1.6M511.2 159.9h1.6M682.2 159.9h-1.6M511.2 155.65h1.6M682.2 155.65h-1.6M511.2 151.4h1.6M682.2 151.4h-1.6M511.2 147.15h1.6M682.2 147.15h-1.6M511.2 142.9h3M682.2 142.9h-3M511.2 138.65h1.6M682.2 138.65h-1.6M511.2 134.4h1.6M682.2 134.4h-1.6M511.2 130.15h1.6M682.2 130.15h-1.6M511.2 125.9h1.6M682.2 125.9h-1.6M511.2 121.65h1.6M682.2 121.65h-1.6M511.2 117.4h1.6M682.2 117.4h-1.6M511.2 113.15h1.6M682.2 113.15h-1.6M511.2 108.9h1.6M682.2 108.9h-1.6M511.2 104.65h1.6M682.2 104.65h-1.6M511.2 100.4h3M682.2 100.4h-3M511.2 96.15h1.6M682.2 96.15h-1.6M511.2 91.9h1.6M682.2 91.9h-1.6M511.2 87.65h1.6M682.2 87.65h-1.6M511.2 83.4h1.6M682.2 83.4h-1.6M511.2 79.15h1.6M682.2 79.15h-1.6M511.2 74.9h1.6M682.2 74.9h-1.6M511.2 70.65h1.6M682.2 70.65h-1.6M511.2 66.4h1.6M682.2 66.4h-1.6M511.2 62.15h1.6M682.2 62.15h-1.6M511.2 57.9h3M682.2 57.9h-3M511.2 53.65h1.6M682.2 53.65h-1.6M511.2 49.4h1.6M682.2 49.4h-1.6M511.2 45.15h1.6M682.2 45.15h-1.6M511.2 40.9h1.6M682.2 40.9h-1.6M511.2 36.65h1.6M682.2 36.65h-1.6M511.2 32.4h1.6M682.2 32.4h-1.6M511.2 28.15h1.6M682.2 28.15h-1.6M511.2 23.9h1.6M682.2 23.9h-1.6M511.2 19.65h1.6M682.2 19.65h-1.6M511.2 15.4h3M682.2 15.4h-3" stroke="#555" stroke-width="0.8" fill="none"/>
<rect x="61.9" y="233.4" width="367.4" height="218.9" fill="none" stroke="#7c7c7c" stroke-width="1.0"/>
<path d="M70.65 452.3v-3M70.65 233.4v3M88.14 452.3v-1.6M88.14 233.4v1.6M105.64 452.3v-1.6M105.64 233.4v1.6M123.13 452.3v-1.6M123.13 233.4v1.6M140.63 452.3v-3M140.63 233.4v3M158.12 452.3v-1.6M158.12 233.4v1.6M175.62 452.3v-1.6M175.62 233.4v1.6M193.11 452.3v-1.6M193.11 233.4v1.6M210.61 452.3v-3M210.61 233.4v3M228.1 452.3v-1.6M228.1 233.4v1.6M245.6 452.3v-1.6M245.6 233.4v1.6M263.1 452.3v-1.6M263.1 233.4v1.6M280.59 452.3v-3M280.59 233.4v3M298.09 452.3v-1.6M298.09 233.4v1.6M315.58 452.3v-1.6M315.58 233.4v1.6M333.08 452.3v-1.6M333.08 233.4v1.6M350.57 452.3v-3M350.57 233.4v3M368.07 452.3v-1.6M368.07 233.4v1.6M385.56 452.3v-1.6M385.56 233.4v1.6M403.06 452.3v-1.6M403.06 233.4v1.6M420.55 452.3v-3M420.55 233.4v3M61.9 446.46h3M429.3 446.46h-3M61.9 441.96h1.6M429.3 441.96h-1.6M61.9 437.47h1.6M429.3 437.47h-1.6M61.9 432.97h1.6M429.3 432.97h-1.6M61.9 428.48h1.6M429.3 428.48h-1.6M61.9 423.98h3M429.3 423.98h-3M61.9 419.49h1.6M429.3 419.49h-1.6M61.9 414.99h1.6M429.3 414.99h-1.6M61.9 410.5h1.6M429.3 410.5h-1.6M61.9 406h1.6M429.3 406h-1.6M61.9 401.51h3M429.3 401.51h-3M61.9 397.01h1.6M429.3 397.01h-1.6M61.9 392.52h1.6M429.3 392.52h-1.6M61.9 388.02h1.6M429.3 388.02h-1.6M61.9 383.53h1.6M429.3 383.53h-1.6M61.9 379.03h3M429.3 379.03h-3M61.9 374.54h1.6M429.3 374.54h-1.6M61.9 370.04h1.6M429.3 370.04h-1.6M61.9 365.55h1.6M429.3 365.55h-1.6M61.9 361.05h1.6M429.3 361.05h-1.6M61.9 356.56h3M429.3 356.56h-3M61.9 352.06h1.6M429.3 352.06h-1.6M61.9 347.57h1.6M429.3 347.57h-1.6M61.9 343.07h1.6M429.3 343.07h-1.6M61.9 338.58h1.6M429.3 338.58h-1.6M61.9 334.09h3M429.3 334.09h-3M61.9 329.59h1.6M429.3 329.59h-1.6M61.9 325.1h1.6M429.3 325.1h-1.6M61.9 320.6h1.6M429.3 320.6h-1.6M61.9 316.11h1.6M429.3 316.11h-1.6M61.9 311.61h3M429.3 311.61h-3M61.9 307.12h1.6M429.3 307.12h-1.6M61.9 302.62h1.6M429.3 302.62h-1.6M61.9 298.13h1.6M429.3 298.13h-1.6M61.9 293.63h1.6M429.3 293.63h-1.6M61.9 289.14h3M429.3 289.14h-3M61.9 284.64h1.6M429.3 284.64h-1.6M61.9 280.15h1.6M429.3 280.15h-1.6M61.9 275.65h1.6M429.3 275.65h-1.6M61.9 271.16h1.6M429.3 271.16h-1.6M61.9 266.66h3M429.3 266.66h-3M61.9 262.17h1.6M429.3 262.17h-1.6M61.9 257.67h1.6M429.3 257.67h-1.6M61.9 253.18h1.6M429.3 253.18h-1.6M61.9 248.68h1.6M429.3 248.68h-1.6M61.9 244.19h3M429.3 244.19h-3M61.9 239.69h1.6M429.3 239.69h-1.6M61.9 235.2h1.6M429.3 235.2h-1.6" stroke="#555" stroke-width="0.8" fill="none"/>
<text x="66.58" y="195.9" font-size="13.4" fill="#111" stroke="#111" stroke-width="0.22" text-anchor="middle">0</text>
<text x="99.19" y="195.9" font-size="13.4" fill="#111" stroke="#111" stroke-width="0.22" text-anchor="middle">4</text>
<text x="131.8" y="195.9" font-size="13.4" fill="#111" stroke="#111" stroke-width="0.22" text-anchor="middle">8</text>
<text x="164.4" y="195.9" font-size="13.4" fill="#111" stroke="#111" stroke-width="0.22" text-anchor="middle">12</text>
<text x="197.01" y="195.9" font-size="13.4" fill="#111" stroke="#111" stroke-width="0.22" text-anchor="middle">16</text>
<text x="229.62" y="195.9" font-size="13.4" fill="#111" stroke="#111" stroke-width="0.22" text-anchor="middle">20</text>
<text x="293.28" y="197.2" font-size="13.4" fill="#111" stroke="#111" stroke-width="0.22" text-anchor="middle">0</text>
<text x="325.89" y="197.2" font-size="13.4" fill="#111" stroke="#111" stroke-width="0.22" text-anchor="middle">4</text>
<text x="358.5" y="197.2" font-size="13.4" fill="#111" stroke="#111" stroke-width="0.22" text-anchor="middle">8</text>
<text x="391.1" y="197.2" font-size="13.4" fill="#111" stroke="#111" stroke-width="0.22" text-anchor="middle">12</text>
<text x="423.71" y="197.2" font-size="13.4" fill="#111" stroke="#111" stroke-width="0.22" text-anchor="middle">16</text>
<text x="456.32" y="197.2" font-size="13.4" fill="#111" stroke="#111" stroke-width="0.22" text-anchor="middle">20</text>
<text x="515.27" y="198.1" font-size="13.4" fill="#111" stroke="#111" stroke-width="0.22" text-anchor="middle">0</text>
<text x="547.84" y="198.1" font-size="13.4" fill="#111" stroke="#111" stroke-width="0.22" text-anchor="middle">4</text>
<text x="580.41" y="198.1" font-size="13.4" fill="#111" stroke="#111" stroke-width="0.22" text-anchor="middle">8</text>
<text x="612.99" y="198.1" font-size="13.4" fill="#111" stroke="#111" stroke-width="0.22" text-anchor="middle">12</text>
<text x="645.56" y="198.1" font-size="13.4" fill="#111" stroke="#111" stroke-width="0.22" text-anchor="middle">16</text>
<text x="678.13" y="198.1" font-size="13.4" fill="#111" stroke="#111" stroke-width="0.22" text-anchor="middle">20</text>
<text x="70.65" y="464.4" font-size="13.4" fill="#111" stroke="#111" stroke-width="0.22" text-anchor="middle">0</text>
<text x="140.63" y="464.4" font-size="13.4" fill="#111" stroke="#111" stroke-width="0.22" text-anchor="middle">4</text>
<text x="210.61" y="464.4" font-size="13.4" fill="#111" stroke="#111" stroke-width="0.22" text-anchor="middle">8</text>
<text x="280.59" y="464.4" font-size="13.4" fill="#111" stroke="#111" stroke-width="0.22" text-anchor="middle">12</text>
<text x="350.57" y="464.4" font-size="13.4" fill="#111" stroke="#111" stroke-width="0.22" text-anchor="middle">16</text>
<text x="420.55" y="464.4" font-size="13.4" fill="#111" stroke="#111" stroke-width="0.22" text-anchor="middle">20</text>
<text x="59.3" y="181.64" font-size="13.4" fill="#111" stroke="#111" stroke-width="0.22" text-anchor="end">94</text>
<text x="59.3" y="127.22" font-size="13.4" fill="#111" stroke="#111" stroke-width="0.22" text-anchor="end">96</text>
<text x="59.3" y="72.8" font-size="13.4" fill="#111" stroke="#111" stroke-width="0.22" text-anchor="end">98</text>
<text x="59.3" y="18.37" font-size="13.4" fill="#111" stroke="#111" stroke-width="0.22" text-anchor="end">100</text>
<text x="285.6" y="163.8" font-size="13.4" fill="#111" stroke="#111" stroke-width="0.22" text-anchor="end">85</text>
<text x="285.6" y="115.5" font-size="13.4" fill="#111" stroke="#111" stroke-width="0.22" text-anchor="end">90</text>
<text x="285.6" y="67.2" font-size="13.4" fill="#111" stroke="#111" stroke-width="0.22" text-anchor="end">95</text>
<text x="285.6" y="18.91" font-size="13.4" fill="#111" stroke="#111" stroke-width="0.22" text-anchor="end">100</text>
<text x="507.8" y="190.1" font-size="13.4" fill="#111" stroke="#111" stroke-width="0.22" text-anchor="end">80</text>
<text x="507.8" y="147.6" font-size="13.4" fill="#111" stroke="#111" stroke-width="0.22" text-anchor="end">85</text>
<text x="507.8" y="105.1" font-size="13.4" fill="#111" stroke="#111" stroke-width="0.22" text-anchor="end">90</text>
<text x="507.8" y="62.6" font-size="13.4" fill="#111" stroke="#111" stroke-width="0.22" text-anchor="end">95</text>
<text x="507.8" y="20.1" font-size="13.4" fill="#111" stroke="#111" stroke-width="0.22" text-anchor="end">100</text>
<text x="57.8" y="451.16" font-size="13.4" fill="#111" stroke="#111" stroke-width="0.22" text-anchor="end">76</text>
<text x="57.8" y="406.21" font-size="13.4" fill="#111" stroke="#111" stroke-width="0.22" text-anchor="end">78</text>
<text x="57.8" y="361.26" font-size="13.4" fill="#111" stroke="#111" stroke-width="0.22" text-anchor="end">80</text>
<text x="57.8" y="316.31" font-size="13.4" fill="#111" stroke="#111" stroke-width="0.22" text-anchor="end">82</text>
<text x="57.8" y="271.36" font-size="13.4" fill="#111" stroke="#111" stroke-width="0.22" text-anchor="end">84</text>
<text transform="translate(34.1,167.7) rotate(-90)" font-size="18.2" fill="#111" stroke="#111" stroke-width="0.22" textLength="138.7" lengthAdjust="spacing">Test accuracy (%)</text>
<text transform="translate(258.2,166.6) rotate(-90)" font-size="18.2" fill="#111" stroke="#111" stroke-width="0.22" textLength="138.4" lengthAdjust="spacing">Test accuracy (%)</text>
<text transform="translate(482.9,167.9) rotate(-90)" font-size="18.2" fill="#111" stroke="#111" stroke-width="0.22" textLength="140.1" lengthAdjust="spacing">Test accuracy (%)</text>
<text transform="translate(34.2,413.6) rotate(-90)" font-size="18.2" fill="#111" stroke="#111" stroke-width="0.22" textLength="140.5" lengthAdjust="spacing">Test accuracy (%)</text>
<text x="122.6" y="217.7" font-size="18.2" fill="#111" stroke="#111" stroke-width="0.22" textLength="57.6" lengthAdjust="spacing">Epochs</text>
<text x="346.2" y="217.4" font-size="18.2" fill="#111" stroke="#111" stroke-width="0.22" textLength="57.2" lengthAdjust="spacing">Epochs</text>
<text x="570.1" y="217.7" font-size="18.2" fill="#111" stroke="#111" stroke-width="0.22" textLength="57.8" lengthAdjust="spacing">Epochs</text>
<text x="211.2" y="484.3" font-size="18.2" fill="#111" stroke="#111" stroke-width="0.22" textLength="57.6" lengthAdjust="spacing">Epochs</text>
<path d="M132 144.3H151.8" stroke="#111" stroke-width="1.8" stroke-dasharray="3.6 1.9"/>
<path d="M132 161.2H151.8" stroke="#3a86c8" stroke-width="1.8"/>
<text x="156" y="148.2" font-size="13.6" fill="#111" stroke="#111" stroke-width="0.22" textLength="52.8" lengthAdjust="spacing">Numeric</text>
<text x="156" y="165.8" font-size="13.6" fill="#111" stroke="#111" stroke-width="0.22" textLength="56.4" lengthAdjust="spacing">mBLAST</text>
<path d="M357 144.3H383.9" stroke="#111" stroke-width="1.8" stroke-dasharray="3.6 1.9"/>
<path d="M357 161.4H383.9" stroke="#3a86c8" stroke-width="1.8"/>
<text x="391.2" y="149.4" font-size="13.6" fill="#111" stroke="#111" stroke-width="0.22" textLength="52.6" lengthAdjust="spacing">Numeric</text>
<text x="391.2" y="166.3" font-size="13.6" fill="#111" stroke="#111" stroke-width="0.22" textLength="55.6" lengthAdjust="spacing">mBLAST</text>
<path d="M555.3 132.9H582.4" stroke="#111" stroke-width="1.8" stroke-dasharray="3.6 1.9"/>
<path d="M555.3 151.1H582.4" stroke="#3a86c8" stroke-width="1.8"/>
<path d="M555.3 170.1H582.4" stroke="#d02630" stroke-width="1.8"/>
<text x="588.9" y="138.4" font-size="13.6" fill="#111" stroke="#111" stroke-width="0.22" textLength="53.4" lengthAdjust="spacing">Numeric</text>
<text x="588" y="156.6" font-size="13.6" fill="#111" stroke="#111" stroke-width="0.22" textLength="74" lengthAdjust="spacing"><tspan font-style="italic">μ</tspan>BLAST D1</text>
<text x="588" y="175.6" font-size="13.6" fill="#111" stroke="#111" stroke-width="0.22" textLength="88.2" lengthAdjust="spacing"><tspan font-style="italic">μ</tspan>BLAST D1-4</text>
<path d="M75.1 247.9H101.4" stroke="#111" stroke-width="1.3" stroke-dasharray="3.5 1.9"/>
<path d="M75.1 266.5H101.4" stroke="#111" stroke-width="1.3" stroke-dasharray="5.4 2.6 1.2 2.6"/>
<path d="M75.1 285H101.4" stroke="#3a86c8" stroke-width="1.5"/>
<path d="M75.1 304.6H101.4" stroke="#d02630" stroke-width="1.5"/>
<text x="109.3" y="253.3" font-size="13.6" fill="#111" stroke="#111" stroke-width="0.22" textLength="52.4" lengthAdjust="spacing">Numeric</text>
<text x="109.3" y="272.2" font-size="13.6" fill="#111" stroke="#111" stroke-width="0.22" textLength="137" lengthAdjust="spacing">Numeric - metaplastic</text>
<text x="108.6" y="290.6" font-size="13.6" fill="#111" stroke="#111" stroke-width="0.22" textLength="74" lengthAdjust="spacing"><tspan font-style="italic">μ</tspan>BLAST D1</text>
<text x="108.6" y="309.8" font-size="13.6" fill="#111" stroke="#111" stroke-width="0.22" textLength="88.2" lengthAdjust="spacing"><tspan font-style="italic">μ</tspan>BLAST D1-4</text>
<g clip-path="url(#cE)">
<path d="M486.9 319.79L489.84 319.79L494.08 319.78L498.63 319.76L502.48 319.74L505.49 319.71L508.16 319.68L510.44 319.64L512.28 319.58L513.53 319.52L514.27 319.46L514.79 319.37L515.42 319.24L516.21 319.07L517.01 318.88L517.8 318.64L518.55 318.31L519.28 317.91L519.97 317.46L520.65 316.9L521.3 316.19L521.94 315.27L522.56 314.19L523.14 313.04L523.65 311.95L524.04 311.14L524.35 310.48L524.65 309.56L525.02 307.98L525.5 305.45L526.05 302.25L526.62 298.8L527.18 295.52L527.72 292.34L528.25 289.1L528.79 286.08L529.33 283.6L529.89 281.78L530.45 280.45L530.99 279.44L531.49 278.56L531.89 277.87L532.24 277.42L532.6 277.08L533.06 276.71L533.67 276.28L534.38 275.86L535.11 275.47L535.8 275.12L536.42 274.77L537.02 274.44L537.6 274.18L538.15 274.06L538.68 274.12L539.18 274.32L539.66 274.59L540.11 274.85L540.5 275.14L540.83 275.48L541.2 275.77L541.68 275.91L542.32 275.83L543.06 275.6L543.85 275.32L544.62 275.12L545.24 275.01L545.78 274.94L546.48 274.89L547.56 274.85L549.22 274.84L551.3 274.85L553.46 274.87L555.4 274.85L557.01 274.79L558.46 274.69L559.85 274.61L561.28 274.59L562.75 274.69L564.22 274.87L565.69 275.04L567.16 275.12L568.63 275.04L570.1 274.87L571.57 274.69L573.04 274.59L574.51 274.62L575.98 274.72L577.45 274.83L578.92 274.85L580.39 274.75L581.86 274.56L583.33 274.38L584.8 274.32L586.27 274.46L587.74 274.72L589.21 274.98L590.68 275.12L592.15 275.06L593.62 274.89L595.09 274.7L596.56 274.59L598.03 274.61L599.5 274.71L600.97 274.81L602.44 274.85L603.91 274.81L605.38 274.72L606.85 274.63L608.32 274.59L609.79 274.63L611.26 274.72L612.73 274.81L614.2 274.85L615.71 274.81L617.26 274.72L618.74 274.63L620.08 274.59L621.22 274.64L622.22 274.74L623.13 274.83L624 274.85L624.8 274.77L625.52 274.62L626.21 274.46L626.94 274.32L627.7 274.21L628.48 274.09L629.27 274.03L630.07 274.06L630.91 274.21L631.76 274.44L632.61 274.75L633.4 275.12L634.15 275.56L634.86 276.06L635.53 276.63L636.15 277.24L636.7 277.87L637.19 278.53L637.65 279.28L638.11 280.15L638.56 281.16L639 282.27L639.44 283.52L639.87 284.92L640.32 286.56L640.78 288.38L641.22 290.27L641.64 292.08L642.01 293.77L642.36 295.42L642.69 297.06L643.01 298.7L643.32 300.38L643.62 302.06L643.91 303.73L644.18 305.33L644.43 306.88L644.65 308.41L644.88 309.85L645.16 311.16L645.51 312.32L645.91 313.38L646.33 314.31L646.73 315.13L647.11 315.8L647.48 316.34L647.87 316.8L648.3 317.25L648.79 317.71L649.33 318.14L649.89 318.52L650.46 318.84L650.84 319.08L651.12 319.26L651.65 319.39L652.81 319.5L654.63 319.6L656.94 319.66L659.78 319.7L663.19 319.74L667.85 319.77L673.5 319.78L678.82 319.79L682.5 319.79L682.5 319.9L486.9 319.9Z" fill="#1f77b4" fill-opacity="0.27"/>
<path d="M486.9 319.79L489.84 319.79L494.08 319.78L498.63 319.76L502.48 319.74L505.49 319.71L508.16 319.68L510.44 319.64L512.28 319.58L513.53 319.52L514.27 319.46L514.79 319.37L515.42 319.24L516.21 319.07L517.01 318.88L517.8 318.64L518.55 318.31L519.28 317.91L519.97 317.46L520.65 316.9L521.3 316.19L521.94 315.27L522.56 314.19L523.14 313.04L523.65 311.95L524.04 311.14L524.35 310.48L524.65 309.56L525.02 307.98L525.5 305.45L526.05 302.25L526.62 298.8L527.18 295.52L527.72 292.34L528.25 289.1L528.79 286.08L529.33 283.6L529.89 281.78L530.45 280.45L530.99 279.44L531.49 278.56L531.89 277.87L532.24 277.42L532.6 277.08L533.06 276.71L533.67 276.28L534.38 275.86L535.11 275.47L535.8 275.12L536.42 274.77L537.02 274.44L537.6 274.18L538.15 274.06L538.68 274.12L539.18 274.32L539.66 274.59L540.11 274.85L540.5 275.14L540.83 275.48L541.2 275.77L541.68 275.91L542.32 275.83L543.06 275.6L543.85 275.32L544.62 275.12L545.24 275.01L545.78 274.94L546.48 274.89L547.56 274.85L549.22 274.84L551.3 274.85L553.46 274.87L555.4 274.85L557.01 274.79L558.46 274.69L559.85 274.61L561.28 274.59L562.75 274.69L564.22 274.87L565.69 275.04L567.16 275.12L568.63 275.04L570.1 274.87L571.57 274.69L573.04 274.59L574.51 274.62L575.98 274.72L577.45 274.83L578.92 274.85L580.39 274.75L581.86 274.56L583.33 274.38L584.8 274.32L586.27 274.46L587.74 274.72L589.21 274.98L590.68 275.12L592.15 275.06L593.62 274.89L595.09 274.7L596.56 274.59L598.03 274.61L599.5 274.71L600.97 274.81L602.44 274.85L603.91 274.81L605.38 274.72L606.85 274.63L608.32 274.59L609.79 274.63L611.26 274.72L612.73 274.81L614.2 274.85L615.71 274.81L617.26 274.72L618.74 274.63L620.08 274.59L621.22 274.64L622.22 274.74L623.13 274.83L624 274.85L624.8 274.77L625.52 274.62L626.21 274.46L626.94 274.32L627.7 274.21L628.48 274.09L629.27 274.03L630.07 274.06L630.91 274.21L631.76 274.44L632.61 274.75L633.4 275.12L634.15 275.56L634.86 276.06L635.53 276.63L636.15 277.24L636.7 277.87L637.19 278.53L637.65 279.28L638.11 280.15L638.56 281.16L639 282.27L639.44 283.52L639.87 284.92L640.32 286.56L640.78 288.38L641.22 290.27L641.64 292.08L642.01 293.77L642.36 295.42L642.69 297.06L643.01 298.7L643.32 300.38L643.62 302.06L643.91 303.73L644.18 305.33L644.43 306.88L644.65 308.41L644.88 309.85L645.16 311.16L645.51 312.32L645.91 313.38L646.33 314.31L646.73 315.13L647.11 315.8L647.48 316.34L647.87 316.8L648.3 317.25L648.79 317.71L649.33 318.14L649.89 318.52L650.46 318.84L650.84 319.08L651.12 319.26L651.65 319.39L652.81 319.5L654.63 319.6L656.94 319.66L659.78 319.7L663.19 319.74L667.85 319.77L673.5 319.78L678.82 319.79L682.5 319.79" fill="none" stroke="#1f77b4" stroke-width="1.25" stroke-linejoin="round"/>
<path d="M503.66 319.9L505.67 319.88L508.59 319.86L511.69 319.83L514.24 319.79L516.08 319.76L517.58 319.73L518.84 319.69L519.92 319.64L520.8 319.56L521.44 319.48L521.96 319.38L522.47 319.24L522.98 319.14L523.43 319.06L523.84 318.84L524.24 318.31L524.6 317.43L524.93 316.28L525.26 314.89L525.61 313.28L525.99 311.31L526.39 309.04L526.79 306.69L527.18 304.53L527.53 302.58L527.86 300.71L528.2 298.96L528.55 297.38L528.91 296.01L529.28 294.83L529.68 293.73L530.12 292.61L530.61 291.43L531.16 290.24L531.72 289.11L532.27 288.1L532.78 287.26L533.28 286.55L533.81 285.88L534.43 285.19L535.16 284.46L535.98 283.73L536.86 283L537.76 282.27L538.7 281.53L539.68 280.78L540.69 280.05L541.68 279.36L542.64 278.72L543.59 278.12L544.56 277.54L545.6 276.97L546.71 276.41L547.88 275.86L549.08 275.34L550.3 274.85L551.51 274.44L552.73 274.09L554.01 273.72L555.4 273.26L556.99 272.64L558.73 271.91L560.47 271.19L562.06 270.62L563.41 270.24L564.61 270L565.81 269.8L567.16 269.56L568.77 269.24L570.55 268.91L572.3 268.57L573.82 268.23L575.04 267.93L576.05 267.65L576.98 267.33L577.94 266.91L578.92 266.32L579.89 265.63L580.86 264.91L581.86 264.26L582.94 263.61L584.08 262.96L585.18 262.43L586.17 262.14L587 262.16L587.71 262.43L588.39 262.82L589.11 263.2L589.88 263.54L590.65 263.92L591.44 264.34L592.25 264.79L593.08 265.28L593.94 265.83L594.78 266.38L595.58 266.91L596.27 267.43L596.9 267.95L597.55 268.41L598.32 268.76L599.25 268.93L600.29 268.98L601.38 268.98L602.44 269.03L603.48 269.11L604.52 269.21L605.55 269.34L606.55 269.56L607.49 269.88L608.38 270.3L609.29 270.74L610.28 271.15L611.4 271.49L612.6 271.82L613.82 272.14L614.98 272.47L616.07 272.81L617.12 273.15L618.14 273.48L619.1 273.79L619.98 274.05L620.8 274.27L621.6 274.52L622.43 274.85L623.32 275.32L624.24 275.86L625.14 276.44L625.96 276.97L626.62 277.43L627.17 277.85L627.75 278.3L628.5 278.83L629.55 279.5L630.78 280.27L632 281.05L633.01 281.74L633.73 282.3L634.26 282.77L634.71 283.26L635.17 283.86L635.63 284.6L636.06 285.42L636.49 286.32L636.93 287.31L637.41 288.4L637.91 289.58L638.41 290.82L638.89 292.08L639.35 293.33L639.8 294.61L640.23 295.95L640.66 297.38L641.06 298.93L641.45 300.57L641.84 302.28L642.22 304L642.62 305.81L643.02 307.69L643.41 309.52L643.79 311.16L644.14 312.55L644.48 313.79L644.81 314.9L645.16 315.93L645.47 316.89L645.74 317.76L646.11 318.52L646.73 319.11L647.8 319.49L649.18 319.7L650.52 319.81L651.44 319.9L651.44 319.9L503.66 319.9Z" fill="#ff7f0e" fill-opacity="0.27"/>
<path d="M503.66 319.9L505.67 319.88L508.59 319.86L511.69 319.83L514.24 319.79L516.08 319.76L517.58 319.73L518.84 319.69L519.92 319.64L520.8 319.56L521.44 319.48L521.96 319.38L522.47 319.24L522.98 319.14L523.43 319.06L523.84 318.84L524.24 318.31L524.6 317.43L524.93 316.28L525.26 314.89L525.61 313.28L525.99 311.31L526.39 309.04L526.79 306.69L527.18 304.53L527.53 302.58L527.86 300.71L528.2 298.96L528.55 297.38L528.91 296.01L529.28 294.83L529.68 293.73L530.12 292.61L530.61 291.43L531.16 290.24L531.72 289.11L532.27 288.1L532.78 287.26L533.28 286.55L533.81 285.88L534.43 285.19L535.16 284.46L535.98 283.73L536.86 283L537.76 282.27L538.7 281.53L539.68 280.78L540.69 280.05L541.68 279.36L542.64 278.72L543.59 278.12L544.56 277.54L545.6 276.97L546.71 276.41L547.88 275.86L549.08 275.34L550.3 274.85L551.51 274.44L552.73 274.09L554.01 273.72L555.4 273.26L556.99 272.64L558.73 271.91L560.47 271.19L562.06 270.62L563.41 270.24L564.61 270L565.81 269.8L567.16 269.56L568.77 269.24L570.55 268.91L572.3 268.57L573.82 268.23L575.04 267.93L576.05 267.65L576.98 267.33L577.94 266.91L578.92 266.32L579.89 265.63L580.86 264.91L581.86 264.26L582.94 263.61L584.08 262.96L585.18 262.43L586.17 262.14L587 262.16L587.71 262.43L588.39 262.82L589.11 263.2L589.88 263.54L590.65 263.92L591.44 264.34L592.25 264.79L593.08 265.28L593.94 265.83L594.78 266.38L595.58 266.91L596.27 267.43L596.9 267.95L597.55 268.41L598.32 268.76L599.25 268.93L600.29 268.98L601.38 268.98L602.44 269.03L603.48 269.11L604.52 269.21L605.55 269.34L606.55 269.56L607.49 269.88L608.38 270.3L609.29 270.74L610.28 271.15L611.4 271.49L612.6 271.82L613.82 272.14L614.98 272.47L616.07 272.81L617.12 273.15L618.14 273.48L619.1 273.79L619.98 274.05L620.8 274.27L621.6 274.52L622.43 274.85L623.32 275.32L624.24 275.86L625.14 276.44L625.96 276.97L626.62 277.43L627.17 277.85L627.75 278.3L628.5 278.83L629.55 279.5L630.78 280.27L632 281.05L633.01 281.74L633.73 282.3L634.26 282.77L634.71 283.26L635.17 283.86L635.63 284.6L636.06 285.42L636.49 286.32L636.93 287.31L637.41 288.4L637.91 289.58L638.41 290.82L638.89 292.08L639.35 293.33L639.8 294.61L640.23 295.95L640.66 297.38L641.06 298.93L641.45 300.57L641.84 302.28L642.22 304L642.62 305.81L643.02 307.69L643.41 309.52L643.79 311.16L644.14 312.55L644.48 313.79L644.81 314.9L645.16 315.93L645.47 316.89L645.74 317.76L646.11 318.52L646.73 319.11L647.8 319.49L649.18 319.7L650.52 319.81L651.44 319.9" fill="none" stroke="#ff7f0e" stroke-width="1.25" stroke-linejoin="round"/>
</g>
<rect x="486.9" y="232.3" width="195.6" height="87.6" fill="none" stroke="#6a6a6a" stroke-width="0.9"/>
<g clip-path="url(#cF)">
<path d="M487 450.04L487.99 450.01L489.41 449.97L491.01 449.93L492.54 449.88L493.92 449.85L495.29 449.82L496.72 449.77L498.29 449.67L500.1 449.5L502.07 449.28L504.05 449.03L505.9 448.8L507.61 448.58L509.26 448.34L510.78 448.12L512.09 447.94L513.11 447.82L513.9 447.74L514.6 447.65L515.34 447.51L516.18 447.3L517.03 447.05L517.85 446.76L518.6 446.43L519.24 446.09L519.81 445.72L520.37 445.28L520.99 444.7L521.72 443.92L522.5 443L523.29 442L524.03 441.02L524.71 440.04L525.35 439.03L525.98 438.04L526.64 437.13L527.33 436.34L528.04 435.61L528.75 434.94L529.46 434.33L530.17 433.75L530.89 433.23L531.59 432.77L532.28 432.38L532.94 432.08L533.58 431.85L534.22 431.68L534.89 431.52L535.6 431.38L536.33 431.29L537.07 431.2L537.82 431.08L538.58 430.94L539.36 430.79L540.12 430.62L540.86 430.44L541.57 430.24L542.24 430.03L542.91 429.81L543.58 429.57L544.27 429.3L544.98 429L545.66 428.72L546.29 428.49L546.84 428.3L547.32 428.13L547.8 428.03L548.36 428.06L549.01 428.25L549.72 428.57L550.46 428.96L551.18 429.36L551.89 429.81L552.61 430.33L553.31 430.79L554 431.08L554.66 431.13L555.29 431L555.93 430.81L556.61 430.65L557.33 430.52L558.08 430.38L558.85 430.27L559.65 430.22L560.5 430.27L561.38 430.38L562.27 430.52L563.13 430.65L563.88 430.77L564.57 430.9L565.32 431.01L566.28 431.08L567.47 431.12L568.82 431.14L570.31 431.12L571.92 431.08L573.69 430.98L575.61 430.81L577.59 430.68L579.52 430.65L581.45 430.81L583.41 431.1L585.29 431.38L587.02 431.52L588.48 431.46L589.76 431.29L591.02 431.07L592.45 430.87L594.15 430.68L596.01 430.48L597.86 430.31L599.51 430.22L600.87 430.28L602.04 430.44L603.18 430.59L604.39 430.65L605.75 430.53L607.18 430.29L608.59 430.07L609.93 430L611.1 430.18L612.16 430.52L613.28 430.86L614.6 431.08L616.24 431.11L618.1 431.03L619.99 430.92L621.77 430.87L623.42 430.88L625.03 430.91L626.52 430.97L627.85 431.08L628.94 431.24L629.83 431.44L630.66 431.67L631.54 431.95L632.53 432.29L633.56 432.68L634.56 433.08L635.45 433.46L636.21 433.8L636.87 434.11L637.48 434.42L638.06 434.76L638.62 435.1L639.14 435.43L639.64 435.81L640.12 436.27L640.57 436.83L640.99 437.47L641.41 438.16L641.86 438.86L642.35 439.6L642.86 440.38L643.38 441.15L643.92 441.89L644.47 442.59L645.04 443.27L645.62 443.9L646.2 444.48L646.76 444.98L647.32 445.41L647.91 445.81L648.59 446.21L649.4 446.62L650.29 447.02L651.23 447.4L652.18 447.72L653.11 447.99L654.06 448.22L655.04 448.42L656.09 448.59L657.22 448.73L658.42 448.84L659.65 448.94L660.86 449.02L662.05 449.09L663.24 449.13L664.43 449.18L665.64 449.24L666.89 449.31L668.17 449.39L669.43 449.48L670.64 449.56L671.69 449.64L672.63 449.71L673.67 449.78L674.98 449.84L676.87 449.9L679.16 449.96L681.31 450L682.8 450.04L682.8 450.1L487 450.1Z" fill="#1f77b4" fill-opacity="0.27"/>
<path d="M487 450.04L487.99 450.01L489.41 449.97L491.01 449.93L492.54 449.88L493.92 449.85L495.29 449.82L496.72 449.77L498.29 449.67L500.1 449.5L502.07 449.28L504.05 449.03L505.9 448.8L507.61 448.58L509.26 448.34L510.78 448.12L512.09 447.94L513.11 447.82L513.9 447.74L514.6 447.65L515.34 447.51L516.18 447.3L517.03 447.05L517.85 446.76L518.6 446.43L519.24 446.09L519.81 445.72L520.37 445.28L520.99 444.7L521.72 443.92L522.5 443L523.29 442L524.03 441.02L524.71 440.04L525.35 439.03L525.98 438.04L526.64 437.13L527.33 436.34L528.04 435.61L528.75 434.94L529.46 434.33L530.17 433.75L530.89 433.23L531.59 432.77L532.28 432.38L532.94 432.08L533.58 431.85L534.22 431.68L534.89 431.52L535.6 431.38L536.33 431.29L537.07 431.2L537.82 431.08L538.58 430.94L539.36 430.79L540.12 430.62L540.86 430.44L541.57 430.24L542.24 430.03L542.91 429.81L543.58 429.57L544.27 429.3L544.98 429L545.66 428.72L546.29 428.49L546.84 428.3L547.32 428.13L547.8 428.03L548.36 428.06L549.01 428.25L549.72 428.57L550.46 428.96L551.18 429.36L551.89 429.81L552.61 430.33L553.31 430.79L554 431.08L554.66 431.13L555.29 431L555.93 430.81L556.61 430.65L557.33 430.52L558.08 430.38L558.85 430.27L559.65 430.22L560.5 430.27L561.38 430.38L562.27 430.52L563.13 430.65L563.88 430.77L564.57 430.9L565.32 431.01L566.28 431.08L567.47 431.12L568.82 431.14L570.31 431.12L571.92 431.08L573.69 430.98L575.61 430.81L577.59 430.68L579.52 430.65L581.45 430.81L583.41 431.1L585.29 431.38L587.02 431.52L588.48 431.46L589.76 431.29L591.02 431.07L592.45 430.87L594.15 430.68L596.01 430.48L597.86 430.31L599.51 430.22L600.87 430.28L602.04 430.44L603.18 430.59L604.39 430.65L605.75 430.53L607.18 430.29L608.59 430.07L609.93 430L611.1 430.18L612.16 430.52L613.28 430.86L614.6 431.08L616.24 431.11L618.1 431.03L619.99 430.92L621.77 430.87L623.42 430.88L625.03 430.91L626.52 430.97L627.85 431.08L628.94 431.24L629.83 431.44L630.66 431.67L631.54 431.95L632.53 432.29L633.56 432.68L634.56 433.08L635.45 433.46L636.21 433.8L636.87 434.11L637.48 434.42L638.06 434.76L638.62 435.1L639.14 435.43L639.64 435.81L640.12 436.27L640.57 436.83L640.99 437.47L641.41 438.16L641.86 438.86L642.35 439.6L642.86 440.38L643.38 441.15L643.92 441.89L644.47 442.59L645.04 443.27L645.62 443.9L646.2 444.48L646.76 444.98L647.32 445.41L647.91 445.81L648.59 446.21L649.4 446.62L650.29 447.02L651.23 447.4L652.18 447.72L653.11 447.99L654.06 448.22L655.04 448.42L656.09 448.59L657.22 448.73L658.42 448.84L659.65 448.94L660.86 449.02L662.05 449.09L663.24 449.13L664.43 449.18L665.64 449.24L666.89 449.31L668.17 449.39L669.43 449.48L670.64 449.56L671.69 449.64L672.63 449.71L673.67 449.78L674.98 449.84L676.87 449.9L679.16 449.96L681.31 450L682.8 450.04" fill="none" stroke="#1f77b4" stroke-width="1.25" stroke-linejoin="round"/>
<path d="M516.43 450.1L517.22 449.88L518.36 449.56L519.62 449.19L520.77 448.8L521.8 448.37L522.8 447.89L523.77 447.43L524.68 447.07L525.54 446.88L526.34 446.78L527.1 446.72L527.83 446.64L528.53 446.56L529.19 446.51L529.82 446.41L530.44 446.21L531.03 445.87L531.59 445.43L532.15 444.94L532.72 444.48L533.32 444L533.93 443.48L534.54 443.03L535.11 442.75L535.63 442.73L536.12 442.89L536.59 443.09L537.06 443.19L537.52 443.18L537.95 443.14L538.4 443.02L538.91 442.75L539.5 442.28L540.14 441.65L540.79 440.97L541.41 440.38L541.98 439.84L542.53 439.32L543.06 438.9L543.58 438.65L544.09 438.64L544.58 438.82L545.06 439.08L545.53 439.3L545.98 439.45L546.41 439.59L546.86 439.75L547.38 439.94L547.99 440.19L548.67 440.47L549.38 440.76L550.09 441.02L550.81 441.3L551.54 441.59L552.28 441.81L553.03 441.89L553.79 441.77L554.56 441.51L555.33 441.17L556.07 440.81L556.77 440.44L557.45 440.02L558.11 439.57L558.78 439.08L559.48 438.52L560.19 437.89L560.87 437.27L561.5 436.7L562.04 436.16L562.53 435.64L562.99 435.21L563.45 434.97L563.92 435.02L564.38 435.27L564.83 435.59L565.3 435.84L565.79 436.03L566.3 436.22L566.79 436.32L567.25 436.27L567.67 436.02L568.05 435.62L568.42 435.12L568.77 434.54L569.1 433.88L569.4 433.11L569.71 432.3L570.08 431.52L570.52 430.79L571.02 430.08L571.53 429.34L572.03 428.49L572.5 427.51L572.96 426.44L573.42 425.31L573.88 424.17L574.34 423.06L574.79 421.94L575.25 420.75L575.72 419.42L576.22 417.91L576.73 416.27L577.23 414.53L577.68 412.72L578.07 410.87L578.42 408.98L578.76 406.95L579.09 404.72L579.42 402.19L579.74 399.43L580.06 396.61L580.39 393.92L580.74 391.4L581.09 388.96L581.45 386.57L581.8 384.19L582.15 381.76L582.5 379.3L582.85 376.97L583.22 374.9L583.61 373.12L584.02 371.55L584.44 370.2L584.85 369.07L585.25 368.18L585.65 367.53L586.03 367.05L586.37 366.69L586.64 366.43L586.87 366.31L587.09 366.32L587.34 366.47L587.64 366.75L587.96 367.15L588.3 367.7L588.65 368.42L589 369.26L589.37 370.24L589.76 371.44L590.17 372.96L590.6 374.89L591.06 377.17L591.54 379.61L592.01 382.03L592.5 384.47L593 386.99L593.49 389.46L593.97 391.76L594.41 393.8L594.84 395.67L595.26 397.48L595.71 399.32L596.18 401.18L596.68 403.03L597.17 404.92L597.66 406.88L598.13 408.97L598.58 411.15L599.04 413.35L599.51 415.53L599.99 417.7L600.48 419.89L600.98 422L601.46 423.95L601.93 425.7L602.38 427.3L602.84 428.79L603.31 430.22L603.79 431.6L604.28 432.91L604.78 434.11L605.26 435.19L605.73 436.11L606.18 436.91L606.64 437.6L607.11 438.22L607.58 438.72L608.05 439.12L608.54 439.5L609.06 439.94L609.63 440.51L610.24 441.15L610.85 441.77L611.45 442.32L612.04 442.83L612.63 443.31L613.2 443.67L613.73 443.83L614.22 443.7L614.68 443.35L615.12 442.91L615.58 442.54L616.06 442.19L616.56 441.82L617.05 441.54L617.53 441.46L618 441.67L618.46 442.09L618.92 442.58L619.38 442.97L619.83 443.27L620.28 443.54L620.74 443.74L621.23 443.83L621.74 443.77L622.27 443.59L622.82 443.37L623.4 443.19L624 443.04L624.63 442.89L625.27 442.78L625.9 442.75L626.5 442.84L627.09 443.02L627.68 443.23L628.28 443.4L628.9 443.5L629.53 443.56L630.16 443.65L630.78 443.83L631.39 444.14L631.99 444.54L632.58 444.96L633.17 445.35L633.74 445.71L634.3 446.06L634.86 446.38L635.45 446.64L636.07 446.81L636.71 446.91L637.38 446.99L638.06 447.07L638.77 447.17L639.5 447.25L640.24 447.35L640.99 447.51L641.75 447.74L642.52 448.02L643.29 448.32L644.03 448.59L644.69 448.82L645.31 449.05L645.96 449.26L646.75 449.45L647.82 449.64L649.09 449.83L650.27 449.99L651.09 450.1L651.09 450.1L516.43 450.1Z" fill="#ff7f0e" fill-opacity="0.27"/>
<path d="M516.43 450.1L517.22 449.88L518.36 449.56L519.62 449.19L520.77 448.8L521.8 448.37L522.8 447.89L523.77 447.43L524.68 447.07L525.54 446.88L526.34 446.78L527.1 446.72L527.83 446.64L528.53 446.56L529.19 446.51L529.82 446.41L530.44 446.21L531.03 445.87L531.59 445.43L532.15 444.94L532.72 444.48L533.32 444L533.93 443.48L534.54 443.03L535.11 442.75L535.63 442.73L536.12 442.89L536.59 443.09L537.06 443.19L537.52 443.18L537.95 443.14L538.4 443.02L538.91 442.75L539.5 442.28L540.14 441.65L540.79 440.97L541.41 440.38L541.98 439.84L542.53 439.32L543.06 438.9L543.58 438.65L544.09 438.64L544.58 438.82L545.06 439.08L545.53 439.3L545.98 439.45L546.41 439.59L546.86 439.75L547.38 439.94L547.99 440.19L548.67 440.47L549.38 440.76L550.09 441.02L550.81 441.3L551.54 441.59L552.28 441.81L553.03 441.89L553.79 441.77L554.56 441.51L555.33 441.17L556.07 440.81L556.77 440.44L557.45 440.02L558.11 439.57L558.78 439.08L559.48 438.52L560.19 437.89L560.87 437.27L561.5 436.7L562.04 436.16L562.53 435.64L562.99 435.21L563.45 434.97L563.92 435.02L564.38 435.27L564.83 435.59L565.3 435.84L565.79 436.03L566.3 436.22L566.79 436.32L567.25 436.27L567.67 436.02L568.05 435.62L568.42 435.12L568.77 434.54L569.1 433.88L569.4 433.11L569.71 432.3L570.08 431.52L570.52 430.79L571.02 430.08L571.53 429.34L572.03 428.49L572.5 427.51L572.96 426.44L573.42 425.31L573.88 424.17L574.34 423.06L574.79 421.94L575.25 420.75L575.72 419.42L576.22 417.91L576.73 416.27L577.23 414.53L577.68 412.72L578.07 410.87L578.42 408.98L578.76 406.95L579.09 404.72L579.42 402.19L579.74 399.43L580.06 396.61L580.39 393.92L580.74 391.4L581.09 388.96L581.45 386.57L581.8 384.19L582.15 381.76L582.5 379.3L582.85 376.97L583.22 374.9L583.61 373.12L584.02 371.55L584.44 370.2L584.85 369.07L585.25 368.18L585.65 367.53L586.03 367.05L586.37 366.69L586.64 366.43L586.87 366.31L587.09 366.32L587.34 366.47L587.64 366.75L587.96 367.15L588.3 367.7L588.65 368.42L589 369.26L589.37 370.24L589.76 371.44L590.17 372.96L590.6 374.89L591.06 377.17L591.54 379.61L592.01 382.03L592.5 384.47L593 386.99L593.49 389.46L593.97 391.76L594.41 393.8L594.84 395.67L595.26 397.48L595.71 399.32L596.18 401.18L596.68 403.03L597.17 404.92L597.66 406.88L598.13 408.97L598.58 411.15L599.04 413.35L599.51 415.53L599.99 417.7L600.48 419.89L600.98 422L601.46 423.95L601.93 425.7L602.38 427.3L602.84 428.79L603.31 430.22L603.79 431.6L604.28 432.91L604.78 434.11L605.26 435.19L605.73 436.11L606.18 436.91L606.64 437.6L607.11 438.22L607.58 438.72L608.05 439.12L608.54 439.5L609.06 439.94L609.63 440.51L610.24 441.15L610.85 441.77L611.45 442.32L612.04 442.83L612.63 443.31L613.2 443.67L613.73 443.83L614.22 443.7L614.68 443.35L615.12 442.91L615.58 442.54L616.06 442.19L616.56 441.82L617.05 441.54L617.53 441.46L618 441.67L618.46 442.09L618.92 442.58L619.38 442.97L619.83 443.27L620.28 443.54L620.74 443.74L621.23 443.83L621.74 443.77L622.27 443.59L622.82 443.37L623.4 443.19L624 443.04L624.63 442.89L625.27 442.78L625.9 442.75L626.5 442.84L627.09 443.02L627.68 443.23L628.28 443.4L628.9 443.5L629.53 443.56L630.16 443.65L630.78 443.83L631.39 444.14L631.99 444.54L632.58 444.96L633.17 445.35L633.74 445.71L634.3 446.06L634.86 446.38L635.45 446.64L636.07 446.81L636.71 446.91L637.38 446.99L638.06 447.07L638.77 447.17L639.5 447.25L640.24 447.35L640.99 447.51L641.75 447.74L642.52 448.02L643.29 448.32L644.03 448.59L644.69 448.82L645.31 449.05L645.96 449.26L646.75 449.45L647.82 449.64L649.09 449.83L650.27 449.99L651.09 450.1" fill="none" stroke="#ff7f0e" stroke-width="1.25" stroke-linejoin="round"/>
</g>
<rect x="487" y="362.8" width="195.8" height="87.3" fill="none" stroke="#6a6a6a" stroke-width="0.9"/>
<path d="M486.8 319.9v-1.6M486.8 232.3v1.6M496.6 319.9v-1.6M496.6 232.3v1.6M506.4 319.9v-3M506.4 232.3v3M516.2 319.9v-1.6M516.2 232.3v1.6M526 319.9v-1.6M526 232.3v1.6M535.8 319.9v-1.6M535.8 232.3v1.6M545.6 319.9v-3M545.6 232.3v3M555.4 319.9v-1.6M555.4 232.3v1.6M565.2 319.9v-1.6M565.2 232.3v1.6M575 319.9v-1.6M575 232.3v1.6M584.8 319.9v-3M584.8 232.3v3M594.6 319.9v-1.6M594.6 232.3v1.6M604.4 319.9v-1.6M604.4 232.3v1.6M614.2 319.9v-1.6M614.2 232.3v1.6M624 319.9v-3M624 232.3v3M633.8 319.9v-1.6M633.8 232.3v1.6M643.6 319.9v-1.6M643.6 232.3v1.6M653.4 319.9v-1.6M653.4 232.3v1.6M663.19 319.9v-3M663.19 232.3v3M672.99 319.9v-1.6M672.99 232.3v1.6M486.9 319.9h3M682.5 319.9h-3M486.9 314.6h1.6M682.5 314.6h-1.6M486.9 309.3h1.6M682.5 309.3h-1.6M486.9 304h1.6M682.5 304h-1.6M486.9 298.7h1.6M682.5 298.7h-1.6M486.9 293.4h3M682.5 293.4h-3M486.9 288.1h1.6M682.5 288.1h-1.6M486.9 282.8h1.6M682.5 282.8h-1.6M486.9 277.5h1.6M682.5 277.5h-1.6M486.9 272.2h1.6M682.5 272.2h-1.6M486.9 266.91h3M682.5 266.91h-3M486.9 261.61h1.6M682.5 261.61h-1.6M486.9 256.31h1.6M682.5 256.31h-1.6M486.9 251.01h1.6M682.5 251.01h-1.6M486.9 245.71h1.6M682.5 245.71h-1.6M486.9 240.41h3M682.5 240.41h-3M486.9 235.11h1.6M682.5 235.11h-1.6" stroke="#555" stroke-width="0.8" fill="none"/>
<path d="M488.19 450.1v-1.6M488.19 362.8v1.6M499.05 450.1v-3M499.05 362.8v3M509.91 450.1v-1.6M509.91 362.8v1.6M520.77 450.1v-1.6M520.77 362.8v1.6M531.63 450.1v-1.6M531.63 362.8v1.6M542.49 450.1v-3M542.49 362.8v3M553.35 450.1v-1.6M553.35 362.8v1.6M564.21 450.1v-1.6M564.21 362.8v1.6M575.07 450.1v-1.6M575.07 362.8v1.6M585.93 450.1v-3M585.93 362.8v3M596.79 450.1v-1.6M596.79 362.8v1.6M607.65 450.1v-1.6M607.65 362.8v1.6M618.51 450.1v-1.6M618.51 362.8v1.6M629.37 450.1v-3M629.37 362.8v3M640.23 450.1v-1.6M640.23 362.8v1.6M651.09 450.1v-1.6M651.09 362.8v1.6M661.95 450.1v-1.6M661.95 362.8v1.6M672.81 450.1v-3M672.81 362.8v3M487 450.1h3M682.8 450.1h-3M487 445.78h1.6M682.8 445.78h-1.6M487 441.46h1.6M682.8 441.46h-1.6M487 437.13h1.6M682.8 437.13h-1.6M487 432.81h1.6M682.8 432.81h-1.6M487 428.49h3M682.8 428.49h-3M487 424.17h1.6M682.8 424.17h-1.6M487 419.85h1.6M682.8 419.85h-1.6M487 415.53h1.6M682.8 415.53h-1.6M487 411.2h1.6M682.8 411.2h-1.6M487 406.88h3M682.8 406.88h-3M487 402.56h1.6M682.8 402.56h-1.6M487 398.24h1.6M682.8 398.24h-1.6M487 393.92h1.6M682.8 393.92h-1.6M487 389.6h1.6M682.8 389.6h-1.6M487 385.27h3M682.8 385.27h-3M487 380.95h1.6M682.8 380.95h-1.6M487 376.63h1.6M682.8 376.63h-1.6M487 372.31h1.6M682.8 372.31h-1.6M487 367.99h1.6M682.8 367.99h-1.6M487 363.66h3M682.8 363.66h-3" stroke="#555" stroke-width="0.8" fill="none"/>
<text x="506.4" y="333.2" font-size="12.0" fill="#111" stroke="#111" stroke-width="0.22" text-anchor="middle" textLength="27" lengthAdjust="spacing">−0.4</text>
<text x="545.6" y="333.2" font-size="12.0" fill="#111" stroke="#111" stroke-width="0.22" text-anchor="middle" textLength="27" lengthAdjust="spacing">−0.2</text>
<text x="584.8" y="333.2" font-size="12.0" fill="#111" stroke="#111" stroke-width="0.22" text-anchor="middle" textLength="17.8" lengthAdjust="spacing">0.0</text>
<text x="624" y="333.2" font-size="12.0" fill="#111" stroke="#111" stroke-width="0.22" text-anchor="middle" textLength="17.8" lengthAdjust="spacing">0.2</text>
<text x="663.19" y="333.2" font-size="12.0" fill="#111" stroke="#111" stroke-width="0.22" text-anchor="middle" textLength="17.8" lengthAdjust="spacing">0.4</text>
<text x="499.05" y="463" font-size="12.0" fill="#111" stroke="#111" stroke-width="0.22" text-anchor="middle" textLength="27" lengthAdjust="spacing">−0.8</text>
<text x="542.49" y="463" font-size="12.0" fill="#111" stroke="#111" stroke-width="0.22" text-anchor="middle" textLength="27" lengthAdjust="spacing">−0.4</text>
<text x="585.93" y="463" font-size="12.0" fill="#111" stroke="#111" stroke-width="0.22" text-anchor="middle" textLength="17.8" lengthAdjust="spacing">0.0</text>
<text x="629.37" y="463" font-size="12.0" fill="#111" stroke="#111" stroke-width="0.22" text-anchor="middle" textLength="17.8" lengthAdjust="spacing">0.4</text>
<text x="672.81" y="463" font-size="12.0" fill="#111" stroke="#111" stroke-width="0.22" text-anchor="middle" textLength="17.8" lengthAdjust="spacing">0.8</text>
<text x="483.6" y="324.3" font-size="12.0" fill="#111" stroke="#111" stroke-width="0.22" text-anchor="end">0</text>
<text x="483.6" y="297.8" font-size="12.0" fill="#111" stroke="#111" stroke-width="0.22" text-anchor="end">1</text>
<text x="483.6" y="271.31" font-size="12.0" fill="#111" stroke="#111" stroke-width="0.22" text-anchor="end">2</text>
<text x="483.6" y="244.81" font-size="12.0" fill="#111" stroke="#111" stroke-width="0.22" text-anchor="end">3</text>
<text x="483.6" y="454.5" font-size="12.0" fill="#111" stroke="#111" stroke-width="0.22" text-anchor="end">0</text>
<text x="483.6" y="432.89" font-size="12.0" fill="#111" stroke="#111" stroke-width="0.22" text-anchor="end">1</text>
<text x="483.6" y="411.28" font-size="12.0" fill="#111" stroke="#111" stroke-width="0.22" text-anchor="end">2</text>
<text x="483.6" y="389.67" font-size="12.0" fill="#111" stroke="#111" stroke-width="0.22" text-anchor="end">3</text>
<text x="483.6" y="368.06" font-size="12.0" fill="#111" stroke="#111" stroke-width="0.22" text-anchor="end">4</text>
<text transform="translate(467.2,306.3) rotate(-90)" font-size="18.2" fill="#111" stroke="#111" stroke-width="0.22" textLength="56.8" lengthAdjust="spacing">Density</text>
<text transform="translate(467.2,434.6) rotate(-90)" font-size="18.2" fill="#111" stroke="#111" stroke-width="0.22" textLength="58" lengthAdjust="spacing">Density</text>
<text x="557.8" y="352.8" font-size="18.2" fill="#111" stroke="#111" stroke-width="0.22" textLength="55.2" lengthAdjust="spacing">Weight</text>
<text x="558.6" y="482.6" font-size="18.2" fill="#111" stroke="#111" stroke-width="0.22" textLength="55.2" lengthAdjust="spacing">Weight</text>
<text x="499.4" y="252.2" font-size="14.3" fill="#000" stroke="#000" stroke-width="0.22" font-weight="bold" textLength="47.6" lengthAdjust="spacing">Layer 1</text>
<text x="499.9" y="381.8" font-size="14.3" fill="#000" stroke="#000" stroke-width="0.22" font-weight="bold" textLength="48.6" lengthAdjust="spacing">Layer 2</text>
<rect x="604.3" y="241.7" width="21.7" height="7.9" fill="#1f77b4" fill-opacity="0.27" stroke="#1f77b4" stroke-width="1.2"/>
<rect x="604.3" y="256.6" width="21.7" height="7.9" fill="#ff7f0e" fill-opacity="0.27" stroke="#ff7f0e" stroke-width="1.2"/>
<text x="633.8" y="250.1" font-size="10.8" fill="#111" stroke="#111" stroke-width="0.22" textLength="39.6" lengthAdjust="spacing">Numeric</text>
<text x="633.8" y="264.6" font-size="10.8" fill="#111" stroke="#111" stroke-width="0.22" textLength="39.6" lengthAdjust="spacing">μBLAST</text>
<rect x="605.3" y="372" width="21.7" height="7.9" fill="#1f77b4" fill-opacity="0.27" stroke="#1f77b4" stroke-width="1.2"/>
<rect x="605.3" y="387.6" width="21.7" height="7.9" fill="#ff7f0e" fill-opacity="0.27" stroke="#ff7f0e" stroke-width="1.2"/>
<text x="635.2" y="380" font-size="10.8" fill="#111" stroke="#111" stroke-width="0.22" textLength="39.6" lengthAdjust="spacing">Numeric</text>
<text x="635.2" y="395.1" font-size="10.8" fill="#111" stroke="#111" stroke-width="0.22" textLength="39.6" lengthAdjust="spacing">μBLAST</text>
<rect x="71.3" y="22.7" width="152.3" height="32.6" fill="#fff" stroke="#b0b0b0" stroke-width="1.1"/>
<path transform="translate(79.3,29) rotate(-2.17) skewX(-11.13) scale(0.6,0.75)" d="M2.9 -3.9L-1.0 -3.4L-1.7 -0.5C0.2 -1.5 2.7 -0.9 2.6 1.3C2.5 3.6 -0.6 4.3 -2.9 3.0" fill="none" stroke="#191919" stroke-width="1.73" stroke-linecap="round" stroke-linejoin="round"/>
<path transform="translate(89.8,29) rotate(1.65) skewX(-5.91) scale(0.65,0.81)" d="M2.9 -3.9L-1.0 -3.4L-1.7 -0.5C0.2 -1.5 2.7 -0.9 2.6 1.3C2.5 3.6 -0.6 4.3 -2.9 3.0" fill="none" stroke="#3f3f3f" stroke-width="1.27" stroke-linecap="round" stroke-linejoin="round"/>
<path transform="translate(100.3,29) rotate(-7.33) skewX(-10.91) scale(0.66,0.83)" d="M2.9 -3.9L-1.0 -3.4L-1.7 -0.5C0.2 -1.5 2.7 -0.9 2.6 1.3C2.5 3.6 -0.6 4.3 -2.9 3.0" fill="none" stroke="#595959" stroke-width="1.24" stroke-linecap="round" stroke-linejoin="round"/>
<path transform="translate(110.8,29) rotate(-0.36) skewX(-9.32) scale(0.76,0.95)" d="M2.9 -3.9L-1.0 -3.4L-1.7 -0.5C0.2 -1.5 2.7 -0.9 2.6 1.3C2.5 3.6 -0.6 4.3 -2.9 3.0" fill="none" stroke="#333333" stroke-width="1.11" stroke-linecap="round" stroke-linejoin="round"/>
<path transform="translate(121.3,29) rotate(3.29) skewX(-7.24) scale(0.79,0.98)" d="M2.9 -3.9L-1.0 -3.4L-1.7 -0.5C0.2 -1.5 2.7 -0.9 2.6 1.3C2.5 3.6 -0.6 4.3 -2.9 3.0" fill="none" stroke="#666666" stroke-width="1.28" stroke-linecap="round" stroke-linejoin="round"/>
<path transform="translate(131.8,29) rotate(9.57) skewX(-8.52) scale(0.57,0.71)" d="M2.9 -3.9L-1.0 -3.4L-1.7 -0.5C0.2 -1.5 2.7 -0.9 2.6 1.3C2.5 3.6 -0.6 4.3 -2.9 3.0" fill="none" stroke="#333333" stroke-width="1.94" stroke-linecap="round" stroke-linejoin="round"/>
<path transform="translate(142.3,29) rotate(-5.4) skewX(-2.21) scale(0.59,0.74)" d="M2.9 -3.9L-1.0 -3.4L-1.7 -0.5C0.2 -1.5 2.7 -0.9 2.6 1.3C2.5 3.6 -0.6 4.3 -2.9 3.0" fill="none" stroke="#262626" stroke-width="1.55" stroke-linecap="round" stroke-linejoin="round"/>
<path transform="translate(152.8,29) rotate(-4.75) skewX(-7.53) scale(0.7,0.87)" d="M2.9 -3.9L-1.0 -3.4L-1.7 -0.5C0.2 -1.5 2.7 -0.9 2.6 1.3C2.5 3.6 -0.6 4.3 -2.9 3.0" fill="none" stroke="#262626" stroke-width="1.47" stroke-linecap="round" stroke-linejoin="round"/>
<path transform="translate(163.3,29) rotate(1.86) skewX(-9.53) scale(0.58,0.72)" d="M2.9 -3.9L-1.0 -3.4L-1.7 -0.5C0.2 -1.5 2.7 -0.9 2.6 1.3C2.5 3.6 -0.6 4.3 -2.9 3.0" fill="none" stroke="#595959" stroke-width="1.43" stroke-linecap="round" stroke-linejoin="round"/>
<path transform="translate(173.8,29) rotate(4.25) skewX(-4.97) scale(0.66,0.83)" d="M2.9 -3.9L-1.0 -3.4L-1.7 -0.5C0.2 -1.5 2.7 -0.9 2.6 1.3C2.5 3.6 -0.6 4.3 -2.9 3.0" fill="none" stroke="#666666" stroke-width="1.38" stroke-linecap="round" stroke-linejoin="round"/>
<path transform="translate(184.3,29) rotate(0.16) skewX(-3.61) scale(0.63,0.79)" d="M2.9 -3.9L-1.0 -3.4L-1.7 -0.5C0.2 -1.5 2.7 -0.9 2.6 1.3C2.5 3.6 -0.6 4.3 -2.9 3.0" fill="none" stroke="#4c4c4c" stroke-width="1.72" stroke-linecap="round" stroke-linejoin="round"/>
<path transform="translate(194.8,29) rotate(-3.61) skewX(-1.5) scale(0.7,0.87)" d="M2.9 -3.9L-1.0 -3.4L-1.7 -0.5C0.2 -1.5 2.7 -0.9 2.6 1.3C2.5 3.6 -0.6 4.3 -2.9 3.0" fill="none" stroke="#262626" stroke-width="1.42" stroke-linecap="round" stroke-linejoin="round"/>
<path transform="translate(205.3,29) rotate(5.13) skewX(-10.58) scale(0.63,0.79)" d="M2.9 -3.9L-1.0 -3.4L-1.7 -0.5C0.2 -1.5 2.7 -0.9 2.6 1.3C2.5 3.6 -0.6 4.3 -2.9 3.0" fill="none" stroke="#7f7f7f" stroke-width="1.83" stroke-linecap="round" stroke-linejoin="round"/>
<path transform="translate(215.8,29) rotate(-0.47) skewX(-6.13) scale(0.74,0.93)" d="M2.9 -3.9L-1.0 -3.4L-1.7 -0.5C0.2 -1.5 2.7 -0.9 2.6 1.3C2.5 3.6 -0.6 4.3 -2.9 3.0" fill="none" stroke="#4c4c4c" stroke-width="1.15" stroke-linecap="round" stroke-linejoin="round"/>
<path transform="translate(79.3,38.6) rotate(-7.29) skewX(-5.12) scale(0.79,0.98)" d="M1.9 -4.0C-0.6 -2.4 -2.4 0.0 -2.2 2.0C-2.0 4.2 1.9 4.3 2.3 2.0C2.5 0.2 -0.4 -0.3 -2.0 1.6" fill="none" stroke="#262626" stroke-width="1.37" stroke-linecap="round" stroke-linejoin="round"/>
<path transform="translate(89.8,38.6) rotate(7.76) skewX(-4.87) scale(0.73,0.91)" d="M1.9 -4.0C-0.6 -2.4 -2.4 0.0 -2.2 2.0C-2.0 4.2 1.9 4.3 2.3 2.0C2.5 0.2 -0.4 -0.3 -2.0 1.6" fill="none" stroke="#8c8c8c" stroke-width="1.44" stroke-linecap="round" stroke-linejoin="round"/>
<path transform="translate(100.3,38.6) rotate(2.44) skewX(-0.66) scale(0.75,0.94)" d="M1.9 -4.0C-0.6 -2.4 -2.4 0.0 -2.2 2.0C-2.0 4.2 1.9 4.3 2.3 2.0C2.5 0.2 -0.4 -0.3 -2.0 1.6" fill="none" stroke="#666666" stroke-width="1.46" stroke-linecap="round" stroke-linejoin="round"/>
<path transform="translate(110.8,38.6) rotate(0.53) skewX(-3.58) scale(0.79,0.98)" d="M1.9 -4.0C-0.6 -2.4 -2.4 0.0 -2.2 2.0C-2.0 4.2 1.9 4.3 2.3 2.0C2.5 0.2 -0.4 -0.3 -2.0 1.6" fill="none" stroke="#000000" stroke-width="1.36" stroke-linecap="round" stroke-linejoin="round"/>
<path transform="translate(121.3,38.6) rotate(3.65) skewX(-8.58) scale(0.84,1.05)" d="M1.9 -4.0C-0.6 -2.4 -2.4 0.0 -2.2 2.0C-2.0 4.2 1.9 4.3 2.3 2.0C2.5 0.2 -0.4 -0.3 -2.0 1.6" fill="none" stroke="#191919" stroke-width="1.31" stroke-linecap="round" stroke-linejoin="round"/>
<path transform="translate(131.8,38.6) rotate(-1.06) skewX(-6.46) scale(0.79,0.98)" d="M1.9 -4.0C-0.6 -2.4 -2.4 0.0 -2.2 2.0C-2.0 4.2 1.9 4.3 2.3 2.0C2.5 0.2 -0.4 -0.3 -2.0 1.6" fill="none" stroke="#262626" stroke-width="1.03" stroke-linecap="round" stroke-linejoin="round"/>
<path transform="translate(142.3,38.6) rotate(-4.98) skewX(-2.78) scale(0.7,0.87)" d="M1.9 -4.0C-0.6 -2.4 -2.4 0.0 -2.2 2.0C-2.0 4.2 1.9 4.3 2.3 2.0C2.5 0.2 -0.4 -0.3 -2.0 1.6" fill="none" stroke="#333333" stroke-width="1.18" stroke-linecap="round" stroke-linejoin="round"/>
<path transform="translate(152.8,38.6) rotate(-5.67) skewX(-1.54) scale(0.72,0.9)" d="M1.9 -4.0C-0.6 -2.4 -2.4 0.0 -2.2 2.0C-2.0 4.2 1.9 4.3 2.3 2.0C2.5 0.2 -0.4 -0.3 -2.0 1.6" fill="none" stroke="#262626" stroke-width="1.31" stroke-linecap="round" stroke-linejoin="round"/>
<path transform="translate(163.3,38.6) rotate(-6.55) skewX(-1.4) scale(0.75,0.94)" d="M1.9 -4.0C-0.6 -2.4 -2.4 0.0 -2.2 2.0C-2.0 4.2 1.9 4.3 2.3 2.0C2.5 0.2 -0.4 -0.3 -2.0 1.6" fill="none" stroke="#4c4c4c" stroke-width="1.33" stroke-linecap="round" stroke-linejoin="round"/>
<path transform="translate(173.8,38.6) rotate(6.75) skewX(-7.02) scale(0.82,1.02)" d="M1.9 -4.0C-0.6 -2.4 -2.4 0.0 -2.2 2.0C-2.0 4.2 1.9 4.3 2.3 2.0C2.5 0.2 -0.4 -0.3 -2.0 1.6" fill="none" stroke="#333333" stroke-width="1.1" stroke-linecap="round" stroke-linejoin="round"/>
<path transform="translate(184.3,38.6) rotate(-1.54) skewX(-10.19) scale(0.82,1.03)" d="M1.9 -4.0C-0.6 -2.4 -2.4 0.0 -2.2 2.0C-2.0 4.2 1.9 4.3 2.3 2.0C2.5 0.2 -0.4 -0.3 -2.0 1.6" fill="none" stroke="#333333" stroke-width="1.39" stroke-linecap="round" stroke-linejoin="round"/>
<path transform="translate(194.8,38.6) rotate(-4.83) skewX(-6.18) scale(0.72,0.9)" d="M1.9 -4.0C-0.6 -2.4 -2.4 0.0 -2.2 2.0C-2.0 4.2 1.9 4.3 2.3 2.0C2.5 0.2 -0.4 -0.3 -2.0 1.6" fill="none" stroke="#3f3f3f" stroke-width="1.23" stroke-linecap="round" stroke-linejoin="round"/>
<path transform="translate(205.3,38.6) rotate(2.6) skewX(-6.97) scale(0.72,0.9)" d="M1.9 -4.0C-0.6 -2.4 -2.4 0.0 -2.2 2.0C-2.0 4.2 1.9 4.3 2.3 2.0C2.5 0.2 -0.4 -0.3 -2.0 1.6" fill="none" stroke="#333333" stroke-width="1.11" stroke-linecap="round" stroke-linejoin="round"/>
<path transform="translate(215.8,38.6) rotate(-1.35) skewX(-3.71) scale(0.77,0.96)" d="M1.9 -4.0C-0.6 -2.4 -2.4 0.0 -2.2 2.0C-2.0 4.2 1.9 4.3 2.3 2.0C2.5 0.2 -0.4 -0.3 -2.0 1.6" fill="none" stroke="#000000" stroke-width="1.93" stroke-linecap="round" stroke-linejoin="round"/>
<path transform="translate(79.3,49.9) rotate(1.28) skewX(-11.35) scale(0.78,0.97)" d="M-2.6 -3.3L2.7 -3.7C1.6 -1.2 0.6 1.4 0.1 3.9" fill="none" stroke="#191919" stroke-width="1.34" stroke-linecap="round" stroke-linejoin="round"/>
<path transform="translate(89.8,49.9) rotate(8.19) skewX(-2.43) scale(0.8,1.01)" d="M-2.6 -3.3L2.7 -3.7C1.6 -1.2 0.6 1.4 0.1 3.9" fill="none" stroke="#262626" stroke-width="1.39" stroke-linecap="round" stroke-linejoin="round"/>
<path transform="translate(100.3,49.9) rotate(-0.94) skewX(-4.39) scale(0.74,0.93)" d="M-2.6 -3.3L2.7 -3.7C1.6 -1.2 0.6 1.4 0.1 3.9" fill="none" stroke="#191919" stroke-width="1.13" stroke-linecap="round" stroke-linejoin="round"/>
<path transform="translate(110.8,49.9) rotate(-6.88) skewX(-10.05) scale(0.69,0.86)" d="M-2.6 -3.3L2.7 -3.7C1.6 -1.2 0.6 1.4 0.1 3.9" fill="none" stroke="#727272" stroke-width="1.27" stroke-linecap="round" stroke-linejoin="round"/>
<path transform="translate(121.3,49.9) rotate(-1.88) skewX(-10.18) scale(0.69,0.86)" d="M-2.6 -3.3L2.7 -3.7C1.6 -1.2 0.6 1.4 0.1 3.9" fill="none" stroke="#0c0c0c" stroke-width="1.16" stroke-linecap="round" stroke-linejoin="round"/>
<path transform="translate(131.8,49.9) rotate(-6.17) skewX(-1.51) scale(0.74,0.92)" d="M-2.6 -3.3L2.7 -3.7C1.6 -1.2 0.6 1.4 0.1 3.9" fill="none" stroke="#333333" stroke-width="1.1" stroke-linecap="round" stroke-linejoin="round"/>
<path transform="translate(142.3,49.9) rotate(3.05) skewX(-7.83) scale(0.7,0.88)" d="M-2.6 -3.3L2.7 -3.7C1.6 -1.2 0.6 1.4 0.1 3.9" fill="none" stroke="#333333" stroke-width="1.27" stroke-linecap="round" stroke-linejoin="round"/>
<path transform="translate(152.8,49.9) rotate(-1.45) skewX(-0.08) scale(0.7,0.87)" d="M-2.6 -3.3L2.7 -3.7C1.6 -1.2 0.6 1.4 0.1 3.9" fill="none" stroke="#4c4c4c" stroke-width="1.58" stroke-linecap="round" stroke-linejoin="round"/>
<path transform="translate(163.3,49.9) rotate(0.39) skewX(-10.77) scale(0.76,0.95)" d="M-2.6 -3.3L2.7 -3.7C1.6 -1.2 0.6 1.4 0.1 3.9" fill="none" stroke="#191919" stroke-width="1.1" stroke-linecap="round" stroke-linejoin="round"/>
<path transform="translate(173.8,49.9) rotate(-1.83) skewX(-10.06) scale(0.72,0.9)" d="M-2.6 -3.3L2.7 -3.7C1.6 -1.2 0.6 1.4 0.1 3.9" fill="none" stroke="#595959" stroke-width="1.52" stroke-linecap="round" stroke-linejoin="round"/>
<path transform="translate(184.3,49.9) rotate(-7.58) skewX(-10.24) scale(0.83,1.04)" d="M-2.6 -3.3L2.7 -3.7C1.6 -1.2 0.6 1.4 0.1 3.9" fill="none" stroke="#333333" stroke-width="1.19" stroke-linecap="round" stroke-linejoin="round"/>
<path transform="translate(194.8,49.9) rotate(1.78) skewX(-0.26) scale(0.68,0.86)" d="M-2.6 -3.3L2.7 -3.7C1.6 -1.2 0.6 1.4 0.1 3.9" fill="none" stroke="#3f3f3f" stroke-width="1.45" stroke-linecap="round" stroke-linejoin="round"/>
<path transform="translate(205.3,49.9) rotate(7.54) skewX(-7.6) scale(0.79,0.99)" d="M-2.6 -3.3L2.7 -3.7C1.6 -1.2 0.6 1.4 0.1 3.9" fill="none" stroke="#262626" stroke-width="1.13" stroke-linecap="round" stroke-linejoin="round"/>
<path transform="translate(215.8,49.9) rotate(-4.99) skewX(-2.65) scale(0.8,1)" d="M-2.6 -3.3L2.7 -3.7C1.6 -1.2 0.6 1.4 0.1 3.9" fill="none" stroke="#595959" stroke-width="1.23" stroke-linecap="round" stroke-linejoin="round"/>
<g transform="translate(0,0)">
<rect x="296.5" y="19.7" width="152.9" height="35" fill="#fff" stroke="#b0b0b0" stroke-width="1.1"/>
<path d="M302.9 49.5L303.13 49.87L303.49 50.31L304.1 50.1L305.03 48.6L306.21 46.44L307.6 44.8L309.26 44.18L311.12 44.08L312.9 44.2L314.46 44.67L315.94 45.36L317.5 45.6L319.28 44.8L321.14 43.56L322.8 43L324.17 43.62L325.33 44.91L326.3 46.5L326.93 48.66L327.36 51.11L328 52.6L329.09 52.5L330.38 51.43L331.6 50L332.6 48.06L333.51 45.76L334.5 44.2L335.64 43.96L336.86 44.47L338 45.1L338.94 45.87L339.82 46.76L340.9 47.1L342.34 46.31L343.97 44.98L345.6 44.2L347.18 44.66L348.75 45.68L350.2 46.3L351.44 45.73L352.57 44.76L353.7 44.8L354.94 47.18L356.19 50.57L357.3 52.4L358.12 51.05L358.79 48.14L359.6 46L360.68 45.54L361.89 45.86L363.1 46.5L364.27 47.79L365.44 49.41L366.6 50L367.68 48.57L368.75 46.1L370 44.2L371.5 43.47L373.19 43.31L375 43.5L377.07 44.26L379.27 45.37L381.2 46L382.62 45.54L383.76 44.6L384.9 44.2L386.18 44.8L387.46 45.95L388.6 47.3L389.5 49.07L390.27 51.05L391.1 52.2L392.09 52.05L393.14 51.08L394.2 49.7L395.16 47.54L396.13 44.96L397.3 43.5L398.83 44.3L400.57 46.2L402.3 47.3L403.94 46.44L405.56 44.77L407.2 43.8L408.95 44.41L410.71 45.73L412.2 46.6L413.22 46.2L413.97 45.36L414.7 45.4L415.5 47.56L416.3 50.6L417.1 52.2L417.83 50.68L418.58 47.72L419.6 46L421.13 47.21L422.94 49.67L424.6 51L425.88 49.87L427.02 47.6L428.3 45.8L429.87 45.12L431.59 44.9L433.3 44.8L434.91 44.77L436.52 44.86L438.2 44.8L440.22 44.41L442.32 43.89L443.8 43.5" fill="none" stroke="#8796a6" stroke-width="1.1" stroke-linejoin="round"/>
<path d="M302.9 44.2L303.3 43.79L303.91 43.25L304.7 43L305.68 43.38L306.84 44.04L308.2 44.4L309.85 44.06L311.69 43.4L313.4 43L314.85 43.2L316.17 43.66L317.5 43.9L318.87 43.54L320.23 42.95L321.6 42.8L322.94 43.52L324.29 44.68L325.7 45.6L327.24 46.14L328.86 46.44L330.4 46.3L331.83 45.37L333.2 44L334.5 43L335.69 42.84L336.81 43.05L338 43L339.3 42.33L340.67 41.4L342.1 40.7L343.59 40.51L345.14 40.55L346.7 40.5L348.35 40.25L350.01 39.91L351.4 39.5L352.32 38.73L352.98 37.88L353.7 37.8L354.57 39.19L355.51 41.35L356.6 43L357.89 43.6L359.32 43.7L360.8 43.6L362.3 43.28L363.85 42.77L365.4 42.5L366.87 42.75L368.35 43.24L370 43.6L372.04 43.6L374.26 43.47L376.2 43.5L377.62 43.95L378.76 44.55L379.9 44.8L381.13 44.26L382.36 43.37L383.6 42.9L384.84 43.22L386.09 43.97L387.4 44.8L388.79 45.89L390.24 47.07L391.7 47.5L393.19 46.49L394.68 44.73L396.1 43.5L397.39 43.53L398.59 44.07L399.8 44.2L400.99 43.36L402.17 42.1L403.5 41.1L405.07 40.71L406.79 40.58L408.5 40.4L410.19 39.81L411.86 39.16L413.4 39.2L414.77 40.69L416 42.86L417.1 44.2L417.98 43.69L418.72 42.35L419.6 41.7L420.74 42.7L422.01 44.4L423.3 45.4L424.52 44.84L425.75 43.59L427.1 42.9L428.69 43.53L430.41 44.71L432 45.4L433.35 44.97L434.58 44.06L435.8 43.5L437.02 43.83L438.23 44.51L439.5 44.8L441.05 44.21L442.66 43.23L443.8 42.5" fill="none" stroke="#3f92cf" stroke-width="1.2" stroke-linejoin="round"/>
<path d="M302.9 28.4L303.35 29.25L304 30.43L304.7 31.4L305.39 32.1L306.13 32.59L307 32.5L308.12 31.31L309.37 29.54L310.5 28.4L311.34 28.61L312.06 29.45L312.9 30L313.96 29.95L315.15 29.61L316.4 29L317.74 27.97L319.16 26.66L320.5 25.5L321.71 24.37L322.86 23.39L324 23.4L325.14 25.59L326.29 28.76L327.5 30.2L328.89 27.88L330.34 23.82L331.6 21.4L332.41 22.28L333.02 24.8L333.9 27.3L335.33 29.48L337.03 31.64L338.6 33.1L339.88 33.37L341.02 32.94L342.1 32.5L343.11 32.41L344.06 32.31L345 31.9L345.94 31L346.89 29.79L347.9 28.4L349.07 26.63L350.3 24.69L351.4 23.4L352.25 23.36L352.97 23.97L353.7 24.3L354.45 23.54L355.21 22.49L356.1 22.6L357.19 25.23L358.39 29.03L359.6 31.4L360.79 30.75L361.98 28.67L363.1 27.3L364.09 27.53L365.01 28.46L366 29.6L367.12 31.17L368.3 32.95L369.5 33.7L370.71 32.46L371.93 30.19L373.1 28.6L374.08 28.61L375 29.29L376.2 29.6L377.97 29.13L380.03 28.28L381.8 27.2L382.97 25.44L383.87 23.46L384.9 22.7L386.24 24.59L387.71 27.7L389.2 29.3L390.64 27.38L392.09 23.93L393.6 22.2L395.17 24L396.8 27.5L398.5 30.5L400.41 32.33L402.39 33.64L404.1 34.2L405.3 33.69L406.21 32.43L407.2 31.1L408.43 30.01L409.73 28.86L410.9 27.4L411.78 25.22L412.52 22.74L413.4 21L414.59 20.15L415.91 20.03L417.1 21.2L418 24.93L418.77 29.94L419.6 33L420.59 32.06L421.64 29.16L422.7 27.2L423.73 27.41L424.77 28.57L425.8 29.9L426.79 31.63L427.77 33.53L428.9 34.2L430.34 32.39L431.93 29.34L433.3 27.4L434.23 27.91L434.95 29.51L435.8 30.5L436.92 30.03L438.18 28.94L439.5 28L441.05 27.46L442.66 27.06L443.8 26.8" fill="none" stroke="#3535a8" stroke-width="1.3" stroke-linejoin="round"/>
</g>
<g transform="translate(225,0.8)">
<rect x="296.5" y="19.7" width="152.9" height="35" fill="#fff" stroke="#b0b0b0" stroke-width="1.1"/>
<path d="M302.9 49.5L303.13 49.87L303.49 50.31L304.1 50.1L305.03 48.6L306.21 46.44L307.6 44.8L309.26 44.18L311.12 44.08L312.9 44.2L314.46 44.67L315.94 45.36L317.5 45.6L319.28 44.8L321.14 43.56L322.8 43L324.17 43.62L325.33 44.91L326.3 46.5L326.93 48.66L327.36 51.11L328 52.6L329.09 52.5L330.38 51.43L331.6 50L332.6 48.06L333.51 45.76L334.5 44.2L335.64 43.96L336.86 44.47L338 45.1L338.94 45.87L339.82 46.76L340.9 47.1L342.34 46.31L343.97 44.98L345.6 44.2L347.18 44.66L348.75 45.68L350.2 46.3L351.44 45.73L352.57 44.76L353.7 44.8L354.94 47.18L356.19 50.57L357.3 52.4L358.12 51.05L358.79 48.14L359.6 46L360.68 45.54L361.89 45.86L363.1 46.5L364.27 47.79L365.44 49.41L366.6 50L367.68 48.57L368.75 46.1L370 44.2L371.5 43.47L373.19 43.31L375 43.5L377.07 44.26L379.27 45.37L381.2 46L382.62 45.54L383.76 44.6L384.9 44.2L386.18 44.8L387.46 45.95L388.6 47.3L389.5 49.07L390.27 51.05L391.1 52.2L392.09 52.05L393.14 51.08L394.2 49.7L395.16 47.54L396.13 44.96L397.3 43.5L398.83 44.3L400.57 46.2L402.3 47.3L403.94 46.44L405.56 44.77L407.2 43.8L408.95 44.41L410.71 45.73L412.2 46.6L413.22 46.2L413.97 45.36L414.7 45.4L415.5 47.56L416.3 50.6L417.1 52.2L417.83 50.68L418.58 47.72L419.6 46L421.13 47.21L422.94 49.67L424.6 51L425.88 49.87L427.02 47.6L428.3 45.8L429.87 45.12L431.59 44.9L433.3 44.8L434.91 44.77L436.52 44.86L438.2 44.8L440.22 44.41L442.32 43.89L443.8 43.5" fill="none" stroke="#8796a6" stroke-width="1.1" stroke-linejoin="round"/>
<path d="M302.9 44.2L303.3 43.79L303.91 43.25L304.7 43L305.68 43.38L306.84 44.04L308.2 44.4L309.85 44.06L311.69 43.4L313.4 43L314.85 43.2L316.17 43.66L317.5 43.9L318.87 43.54L320.23 42.95L321.6 42.8L322.94 43.52L324.29 44.68L325.7 45.6L327.24 46.14L328.86 46.44L330.4 46.3L331.83 45.37L333.2 44L334.5 43L335.69 42.84L336.81 43.05L338 43L339.3 42.33L340.67 41.4L342.1 40.7L343.59 40.51L345.14 40.55L346.7 40.5L348.35 40.25L350.01 39.91L351.4 39.5L352.32 38.73L352.98 37.88L353.7 37.8L354.57 39.19L355.51 41.35L356.6 43L357.89 43.6L359.32 43.7L360.8 43.6L362.3 43.28L363.85 42.77L365.4 42.5L366.87 42.75L368.35 43.24L370 43.6L372.04 43.6L374.26 43.47L376.2 43.5L377.62 43.95L378.76 44.55L379.9 44.8L381.13 44.26L382.36 43.37L383.6 42.9L384.84 43.22L386.09 43.97L387.4 44.8L388.79 45.89L390.24 47.07L391.7 47.5L393.19 46.49L394.68 44.73L396.1 43.5L397.39 43.53L398.59 44.07L399.8 44.2L400.99 43.36L402.17 42.1L403.5 41.1L405.07 40.71L406.79 40.58L408.5 40.4L410.19 39.81L411.86 39.16L413.4 39.2L414.77 40.69L416 42.86L417.1 44.2L417.98 43.69L418.72 42.35L419.6 41.7L420.74 42.7L422.01 44.4L423.3 45.4L424.52 44.84L425.75 43.59L427.1 42.9L428.69 43.53L430.41 44.71L432 45.4L433.35 44.97L434.58 44.06L435.8 43.5L437.02 43.83L438.23 44.51L439.5 44.8L441.05 44.21L442.66 43.23L443.8 42.5" fill="none" stroke="#3f92cf" stroke-width="1.2" stroke-linejoin="round"/>
<path d="M302.9 28.4L303.35 29.25L304 30.43L304.7 31.4L305.39 32.1L306.13 32.59L307 32.5L308.12 31.31L309.37 29.54L310.5 28.4L311.34 28.61L312.06 29.45L312.9 30L313.96 29.95L315.15 29.61L316.4 29L317.74 27.97L319.16 26.66L320.5 25.5L321.71 24.37L322.86 23.39L324 23.4L325.14 25.59L326.29 28.76L327.5 30.2L328.89 27.88L330.34 23.82L331.6 21.4L332.41 22.28L333.02 24.8L333.9 27.3L335.33 29.48L337.03 31.64L338.6 33.1L339.88 33.37L341.02 32.94L342.1 32.5L343.11 32.41L344.06 32.31L345 31.9L345.94 31L346.89 29.79L347.9 28.4L349.07 26.63L350.3 24.69L351.4 23.4L352.25 23.36L352.97 23.97L353.7 24.3L354.45 23.54L355.21 22.49L356.1 22.6L357.19 25.23L358.39 29.03L359.6 31.4L360.79 30.75L361.98 28.67L363.1 27.3L364.09 27.53L365.01 28.46L366 29.6L367.12 31.17L368.3 32.95L369.5 33.7L370.71 32.46L371.93 30.19L373.1 28.6L374.08 28.61L375 29.29L376.2 29.6L377.97 29.13L380.03 28.28L381.8 27.2L382.97 25.44L383.87 23.46L384.9 22.7L386.24 24.59L387.71 27.7L389.2 29.3L390.64 27.38L392.09 23.93L393.6 22.2L395.17 24L396.8 27.5L398.5 30.5L400.41 32.33L402.39 33.64L404.1 34.2L405.3 33.69L406.21 32.43L407.2 31.1L408.43 30.01L409.73 28.86L410.9 27.4L411.78 25.22L412.52 22.74L413.4 21L414.59 20.15L415.91 20.03L417.1 21.2L418 24.93L418.77 29.94L419.6 33L420.59 32.06L421.64 29.16L422.7 27.2L423.73 27.41L424.77 28.57L425.8 29.9L426.79 31.63L427.77 33.53L428.9 34.2L430.34 32.39L431.93 29.34L433.3 27.4L434.23 27.91L434.95 29.51L435.8 30.5L436.92 30.03L438.18 28.94L439.5 28L441.05 27.46L442.66 27.06L443.8 26.8" fill="none" stroke="#3535a8" stroke-width="1.3" stroke-linejoin="round"/>
</g>
<rect x="208.5" y="386.8" width="206.9" height="47.8" fill="#fff" stroke="#b0b0b0" stroke-width="1.1"/>
<path transform="translate(218.2,395.3) scale(0.84)" d="M-7 2.5L-6.5 -0.5L-2 -1.2L1.5 -3L4 -2.8L6.5 0L7 2.5Z" fill="#e2e2e2" stroke="#777" stroke-width="0.8"/>
<path transform="translate(239.04,395.3) scale(0.84)" d="M-7 2.5L-6.5 -0.5L-2 -1.2L1.5 -3L4 -2.8L6.5 0L7 2.5Z" fill="#d4d4d4" stroke="#aaa" stroke-width="0.8"/>
<path transform="translate(259.88,395.3) scale(0.84)" d="M-6 -4.5L-2 -6L2 -6L6 -4.5L7 -0.5L4.2 0.3L4.2 6L-4.2 6L-4.2 0.3L-7 -0.5Z" fill="#6e6e6e"/>
<path transform="translate(280.72,395.3) scale(0.84)" d="M-6 -4.5L-2 -6L2 -6L6 -4.5L7 -0.5L4.2 0.3L4.2 6L-4.2 6L-4.2 0.3L-7 -0.5Z" fill="#151515"/>
<path transform="translate(301.56,395.3) scale(0.84)" d="M-3.5 -6L3.5 -6L5.8 -4.5L6.8 6L4.8 6L4 -0.5L4 6L-4 6L-4 -0.5L-4.8 6L-6.8 6L-5.8 -4.5Z" fill="#a9a9a9"/>
<path transform="translate(322.4,395.3) scale(0.84)" d="M-6 -4.5L-2 -6L2 -6L6 -4.5L7 -0.5L4.2 0.3L4.2 6L-4.2 6L-4.2 0.3L-7 -0.5Z" fill="#bdbdbd"/>
<path transform="translate(343.24,395.3) scale(0.84)" d="M-0.5 -6.5L4 -6.5L4.5 6L-6 6L-6 3L-1.5 1Z" fill="#2e2e2e"/>
<path transform="translate(364.08,395.3) scale(0.84)" d="M-3.2 -6.5L3.2 -6.5L5.4 -5L6.5 6.5L4.6 6.5L4 -0.5L4 6.5L-4 6.5L-4 -0.5L-4.6 6.5L-6.5 6.5L-5.4 -5Z" fill="#d0d0d0" stroke="#888" stroke-width="0.8"/>
<path transform="translate(384.92,395.3) scale(0.84)" d="M-7 2.5L-6.5 -0.5L-2 -1.2L1.5 -3L4 -2.8L6.5 0L7 2.5Z" fill="#2a2a2a"/>
<path transform="translate(405.76,395.3) scale(0.84)" d="M-7 2.5L-6.5 -0.5L-2 -1.2L1.5 -3L4 -2.8L6.5 0L7 2.5Z" fill="#3a3a3a"/>
<path transform="translate(218.2,411.15) scale(0.84)" d="M-0.5 -6.5L4 -6.5L4.5 6L-6 6L-6 3L-1.5 1Z" fill="#1e1e1e"/>
<path transform="translate(239.04,411.15) scale(0.84)" d="M-3.5 -6.5L3.5 -6.5L5.5 -5L6.5 6.5L4.5 6.5L4.2 0L4.2 6.5L-4.2 6.5L-4.2 0L-4.5 6.5L-6.5 6.5L-5.5 -5Z" fill="#4a4a4a"/>
<path transform="translate(259.88,411.15) scale(0.84)" d="M-3.5 -6L3.5 -6L5.8 -4.5L6.8 6L4.8 6L4 -0.5L4 6L-4 6L-4 -0.5L-4.8 6L-6.8 6L-5.8 -4.5Z" fill="#5e5e5e"/>
<path transform="translate(280.72,411.15) scale(0.84)" d="M-3.5 -6.5L3.5 -6.5L5.5 -5L6.5 6.5L4.5 6.5L4.2 0L4.2 6.5L-4.2 6.5L-4.2 0L-4.5 6.5L-6.5 6.5L-5.5 -5Z" fill="#262626"/>
<path transform="translate(301.56,411.15) scale(0.84)" d="M-7 2.5L-6 0L-1 -1L2 -3L5 -2L7 0.5L7 2.5Z" fill="#3c3c3c" stroke="#000" stroke-width="0.8"/>
<path transform="translate(322.4,411.15) scale(0.84)" d="M-6 -4.5L-2 -6L2 -6L6 -4.5L7 -0.5L4.2 0.3L4.2 6L-4.2 6L-4.2 0.3L-7 -0.5Z" fill="#1a1a1a"/>
<path transform="translate(343.24,411.15) scale(0.84)" d="M-3.5 -6.5L3.5 -6.5L5.5 -5L6.5 6.5L4.5 6.5L4.2 0L4.2 6.5L-4.2 6.5L-4.2 0L-4.5 6.5L-6.5 6.5L-5.5 -5Z" fill="#474747"/>
<path transform="translate(364.08,411.15) scale(0.84)" d="M-3.5 -6.5L3.5 -6.5L5.5 -5L6.5 6.5L4.5 6.5L4.2 0L4.2 6.5L-4.2 6.5L-4.2 0L-4.5 6.5L-6.5 6.5L-5.5 -5Z" fill="#333333"/>
<path transform="translate(384.92,411.15) scale(0.84)" d="M-3.2 -6.5L3.2 -6.5L5.4 -5L6.5 6.5L4.6 6.5L4 -0.5L4 6.5L-4 6.5L-4 -0.5L-4.6 6.5L-6.5 6.5L-5.4 -5Z" fill="#e8e8e8" stroke="#999" stroke-width="0.8"/>
<path transform="translate(405.76,411.15) scale(0.84)" d="M-7 2.5L-6.5 -0.5L-2 -1.2L1.5 -3L4 -2.8L6.5 0L7 2.5Z" fill="#252525"/>
<path transform="translate(218.2,427) scale(0.84)" d="M-3.2 -6.5L3.2 -6.5L5.4 -5L6.5 6.5L4.6 6.5L4 -0.5L4 6.5L-4 6.5L-4 -0.5L-4.6 6.5L-6.5 6.5L-5.4 -5Z" fill="#e4e4e4" stroke="#aaa" stroke-width="0.8"/>
<path transform="translate(239.04,427) scale(0.84)" d="M-0.5 -6.5L4 -6.5L4.5 6L-6 6L-6 3L-1.5 1Z" fill="#bdbdbd" stroke="#888" stroke-width="0.8"/>
<path transform="translate(259.88,427) scale(0.84)" d="M-2 -6.5L2 -6.5L2.8 -2L4.8 6.5L-4.8 6.5L-2.8 -2Z" fill="#141414"/>
<path transform="translate(280.72,427) scale(0.84)" d="M-0.5 -6.5L4 -6.5L4.5 6L-6 6L-6 3L-1.5 1Z" fill="#0e0e0e"/>
<path transform="translate(301.56,427) scale(0.84)" d="M-3 -6.5L3 -6.5L3.6 6.5L1 6.5L0 -1L-1 6.5L-3.6 6.5Z" fill="#8a8a8a"/>
<path transform="translate(322.4,427) scale(0.84)" d="M-6 -4.5L-2 -6L2 -6L6 -4.5L7 -0.5L4.2 0.3L4.2 6L-4.2 6L-4.2 0.3L-7 -0.5Z" fill="#666666"/>
<path transform="translate(343.24,427) scale(0.84)" d="M-3 -6.5L3 -6.5L3.6 6.5L1 6.5L0 -1L-1 6.5L-3.6 6.5Z" fill="#303030"/>
<path transform="translate(364.08,427) scale(0.84)" d="M-2 -6.5L2 -6.5L2.8 -2L4.8 6.5L-4.8 6.5L-2.8 -2Z" fill="#1c1c1c"/>
<path transform="translate(384.92,427) scale(0.84)" d="M-6.5 -1L6.5 -1L5.5 6L-5.5 6ZM-3 -1L-2 -5L2 -5L3 -1" fill="#8a8a8a" stroke="#555" stroke-width="0.8"/>
<path transform="translate(405.76,427) scale(0.84)" d="M-6 -4.5L-2 -6L2 -6L6 -4.5L7 -0.5L4.2 0.3L4.2 6L-4.2 6L-4.2 0.3L-7 -0.5Z" fill="#6e6e6e"/>
</svg></body></html>
